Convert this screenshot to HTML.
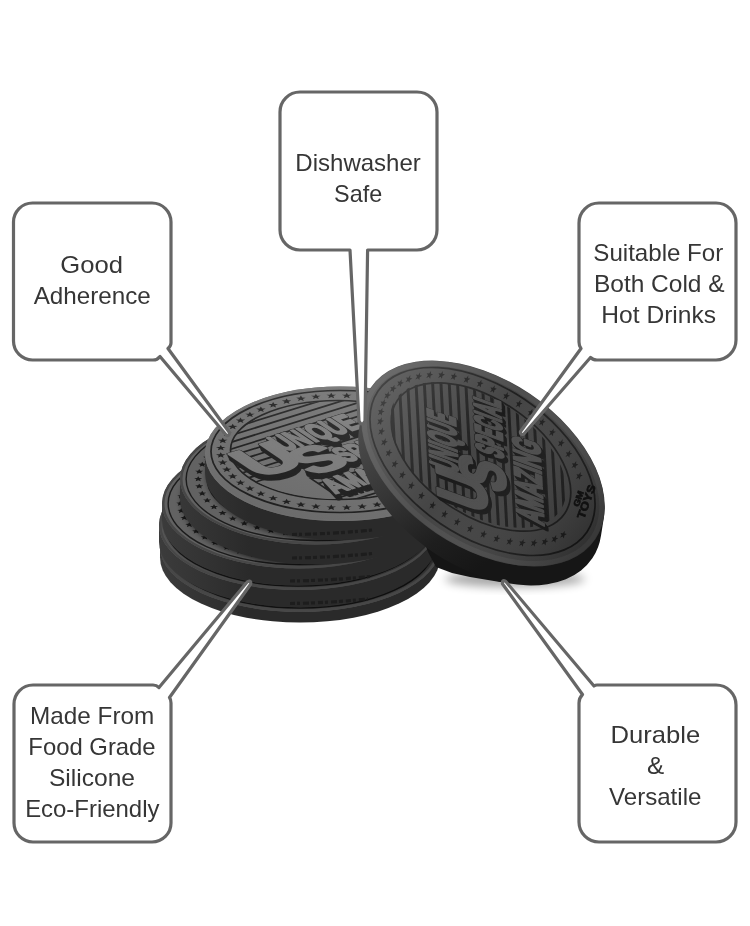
<!DOCTYPE html>
<html>
<head>
<meta charset="utf-8">
<style>
html,body{margin:0;padding:0;background:#fff;}
body{width:750px;height:926px;overflow:hidden;position:relative;font-family:"Liberation Sans",sans-serif;}
svg{position:absolute;left:0;top:0;filter:grayscale(1);}
svg text{font-family:"Liberation Sans",sans-serif;}
.t{font-size:24px;fill:#363636;text-anchor:middle;}
</style>
</head>
<body>
<svg width="750" height="926" viewBox="0 0 750 926">
<defs>
  <radialGradient id="shadow" cx="0.5" cy="0.5" r="0.5">
    <stop offset="0" stop-color="#000" stop-opacity="0.5"/>
    <stop offset="1" stop-color="#000" stop-opacity="0"/>
  </radialGradient>
  <filter id="blur" x="-20%" y="-50%" width="140%" height="200%"><feGaussianBlur stdDeviation="5"/></filter>
</defs>
<g filter="url(#blur)" opacity="0.35">
  <ellipse cx="515" cy="579" rx="70" ry="8" fill="#000"/>
</g>
<defs><filter id="sb" x="-30%" y="-60%" width="160%" height="220%"><feGaussianBlur stdDeviation="3.2"/></filter><linearGradient id="sideg" gradientUnits="userSpaceOnUse" x1="158" y1="0" x2="250" y2="0"><stop offset="0" stop-color="#3c3c3c"/><stop offset="1" stop-color="#2a2a2a"/></linearGradient></defs>
<ellipse cx="300" cy="557.6" rx="140" ry="65" fill="url(#sideg)"/>
<rect x="160" y="547" width="280" height="10.6" fill="url(#sideg)"/>
<ellipse cx="300" cy="547" rx="140" ry="65" fill="#626262"/>
<ellipse cx="300" cy="547" rx="133.7" ry="61.1" fill="none" stroke="#1c1c1c" stroke-width="1.4"/>
<path d="M421.24,544.33 L422.38,546.03 L425.33,546.18 L423.08,547.37 L423.77,549.16 L421.24,548.2 L418.71,549.16 L419.4,547.37 L417.15,546.18 L420.1,546.03ZM420.2,551.59 L421.34,553.28 L424.29,553.43 L422.04,554.62 L422.73,556.41 L420.2,555.45 L417.68,556.41 L418.36,554.62 L416.11,553.43 L419.07,553.28ZM417.11,558.72 L418.25,560.41 L421.2,560.56 L418.95,561.75 L419.64,563.54 L417.11,562.58 L414.58,563.54 L415.27,561.75 L413.02,560.56 L415.97,560.41ZM412.01,565.6 L413.15,567.3 L416.1,567.44 L413.85,568.64 L414.54,570.42 L412.01,569.47 L409.48,570.42 L410.17,568.64 L407.92,567.44 L410.87,567.3ZM405,572.12 L406.13,573.82 L409.09,573.96 L406.84,575.16 L407.52,576.94 L405,575.99 L402.47,576.94 L403.16,575.16 L400.91,573.96 L403.86,573.82ZM396.19,578.17 L397.32,579.86 L400.28,580.01 L398.03,581.2 L398.71,582.99 L396.19,582.03 L393.66,582.99 L394.35,581.2 L392.1,580.01 L395.05,579.86ZM385.73,583.63 L386.87,585.33 L389.82,585.47 L387.57,586.67 L388.26,588.45 L385.73,587.5 L383.2,588.45 L383.89,586.67 L381.64,585.47 L384.59,585.33ZM373.81,588.42 L374.94,590.12 L377.9,590.27 L375.65,591.46 L376.33,593.25 L373.81,592.29 L371.28,593.25 L371.97,591.46 L369.72,590.27 L372.67,590.12ZM360.62,592.46 L361.76,594.16 L364.71,594.31 L362.46,595.5 L363.15,597.29 L360.62,596.33 L358.09,597.29 L358.78,595.5 L356.53,594.31 L359.48,594.16ZM346.4,595.68 L347.53,597.37 L350.49,597.52 L348.24,598.72 L348.92,600.5 L346.4,599.54 L343.87,600.5 L344.56,598.72 L342.31,597.52 L345.26,597.37ZM331.38,598.02 L332.52,599.71 L335.47,599.86 L333.22,601.05 L333.91,602.84 L331.38,601.88 L328.85,602.84 L329.54,601.05 L327.29,599.86 L330.24,599.71ZM315.82,599.43 L316.96,601.13 L319.91,601.28 L317.67,602.47 L318.35,604.26 L315.82,603.3 L313.3,604.26 L313.98,602.47 L311.74,601.28 L314.69,601.13ZM300,599.91 L301.14,601.6 L304.09,601.75 L301.84,602.95 L302.53,604.73 L300,603.77 L297.47,604.73 L298.16,602.95 L295.91,601.75 L298.86,601.6ZM284.18,599.43 L285.31,601.13 L288.26,601.28 L286.02,602.47 L286.7,604.26 L284.18,603.3 L281.65,604.26 L282.33,602.47 L280.09,601.28 L283.04,601.13ZM268.62,598.02 L269.76,599.71 L272.71,599.86 L270.46,601.05 L271.15,602.84 L268.62,601.88 L266.09,602.84 L266.78,601.05 L264.53,599.86 L267.48,599.71ZM253.6,595.68 L254.74,597.37 L257.69,597.52 L255.44,598.72 L256.13,600.5 L253.6,599.54 L251.08,600.5 L251.76,598.72 L249.51,597.52 L252.47,597.37ZM239.38,592.46 L240.52,594.16 L243.47,594.31 L241.22,595.5 L241.91,597.29 L239.38,596.33 L236.85,597.29 L237.54,595.5 L235.29,594.31 L238.24,594.16ZM226.19,588.42 L227.33,590.12 L230.28,590.27 L228.03,591.46 L228.72,593.25 L226.19,592.29 L223.67,593.25 L224.35,591.46 L222.1,590.27 L225.06,590.12ZM214.27,583.63 L215.41,585.33 L218.36,585.47 L216.11,586.67 L216.8,588.45 L214.27,587.5 L211.74,588.45 L212.43,586.67 L210.18,585.47 L213.13,585.33ZM203.81,578.17 L204.95,579.86 L207.9,580.01 L205.65,581.2 L206.34,582.99 L203.81,582.03 L201.29,582.99 L201.97,581.2 L199.72,580.01 L202.68,579.86ZM195,572.12 L196.14,573.82 L199.09,573.96 L196.84,575.16 L197.53,576.94 L195,575.99 L192.48,576.94 L193.16,575.16 L190.91,573.96 L193.87,573.82ZM187.99,565.6 L189.13,567.3 L192.08,567.44 L189.83,568.64 L190.52,570.42 L187.99,569.47 L185.46,570.42 L186.15,568.64 L183.9,567.44 L186.85,567.3ZM182.89,558.72 L184.03,560.41 L186.98,560.56 L184.73,561.75 L185.42,563.54 L182.89,562.58 L180.36,563.54 L181.05,561.75 L178.8,560.56 L181.75,560.41ZM179.8,551.59 L180.93,553.28 L183.89,553.43 L181.64,554.62 L182.32,556.41 L179.8,555.45 L177.27,556.41 L177.96,554.62 L175.71,553.43 L178.66,553.28ZM178.76,544.33 L179.9,546.03 L182.85,546.18 L180.6,547.37 L181.29,549.16 L178.76,548.2 L176.23,549.16 L176.92,547.37 L174.67,546.18 L177.62,546.03ZM179.8,537.08 L180.93,538.78 L183.89,538.92 L181.64,540.12 L182.32,541.9 L179.8,540.95 L177.27,541.9 L177.96,540.12 L175.71,538.92 L178.66,538.78ZM182.89,529.95 L184.03,531.65 L186.98,531.79 L184.73,532.99 L185.42,534.77 L182.89,533.82 L180.36,534.77 L181.05,532.99 L178.8,531.79 L181.75,531.65ZM187.99,523.07 L189.13,524.76 L192.08,524.91 L189.83,526.1 L190.52,527.89 L187.99,526.93 L185.46,527.89 L186.15,526.1 L183.9,524.91 L186.85,524.76ZM195,516.55 L196.14,518.24 L199.09,518.39 L196.84,519.58 L197.53,521.37 L195,520.41 L192.48,521.37 L193.16,519.58 L190.91,518.39 L193.87,518.24ZM203.81,510.5 L204.95,512.2 L207.9,512.34 L205.65,513.54 L206.34,515.32 L203.81,514.37 L201.29,515.32 L201.97,513.54 L199.72,512.34 L202.68,512.2ZM214.27,505.04 L215.41,506.73 L218.36,506.88 L216.11,508.07 L216.8,509.86 L214.27,508.9 L211.74,509.86 L212.43,508.07 L210.18,506.88 L213.13,506.73ZM226.19,500.24 L227.33,501.94 L230.28,502.09 L228.03,503.28 L228.72,505.07 L226.19,504.11 L223.67,505.07 L224.35,503.28 L222.1,502.09 L225.06,501.94ZM239.38,496.2 L240.52,497.9 L243.47,498.05 L241.22,499.24 L241.91,501.03 L239.38,500.07 L236.85,501.03 L237.54,499.24 L235.29,498.05 L238.24,497.9ZM253.6,492.99 L254.74,494.68 L257.69,494.83 L255.44,496.03 L256.13,497.81 L253.6,496.86 L251.08,497.81 L251.76,496.03 L249.51,494.83 L252.47,494.68ZM268.62,490.65 L269.76,492.35 L272.71,492.49 L270.46,493.69 L271.15,495.48 L268.62,494.52 L266.09,495.48 L266.78,493.69 L264.53,492.49 L267.48,492.35ZM284.18,489.23 L285.31,490.93 L288.26,491.08 L286.02,492.27 L286.7,494.06 L284.18,493.1 L281.65,494.06 L282.33,492.27 L280.09,491.08 L283.04,490.93ZM300,488.76 L301.14,490.45 L304.09,490.6 L301.84,491.8 L302.53,493.58 L300,492.62 L297.47,493.58 L298.16,491.8 L295.91,490.6 L298.86,490.45ZM315.82,489.23 L316.96,490.93 L319.91,491.08 L317.67,492.27 L318.35,494.06 L315.82,493.1 L313.3,494.06 L313.98,492.27 L311.74,491.08 L314.69,490.93ZM331.38,490.65 L332.52,492.35 L335.47,492.49 L333.22,493.69 L333.91,495.48 L331.38,494.52 L328.85,495.48 L329.54,493.69 L327.29,492.49 L330.24,492.35ZM346.4,492.99 L347.53,494.68 L350.49,494.83 L348.24,496.03 L348.92,497.81 L346.4,496.86 L343.87,497.81 L344.56,496.03 L342.31,494.83 L345.26,494.68ZM360.62,496.2 L361.76,497.9 L364.71,498.05 L362.46,499.24 L363.15,501.03 L360.62,500.07 L358.09,501.03 L358.78,499.24 L356.53,498.05 L359.48,497.9ZM373.81,500.24 L374.94,501.94 L377.9,502.09 L375.65,503.28 L376.33,505.07 L373.81,504.11 L371.28,505.07 L371.97,503.28 L369.72,502.09 L372.67,501.94ZM385.73,505.04 L386.87,506.73 L389.82,506.88 L387.57,508.07 L388.26,509.86 L385.73,508.9 L383.2,509.86 L383.89,508.07 L381.64,506.88 L384.59,506.73ZM396.19,510.5 L397.32,512.2 L400.28,512.34 L398.03,513.54 L398.71,515.32 L396.19,514.37 L393.66,515.32 L394.35,513.54 L392.1,512.34 L395.05,512.2ZM405,516.55 L406.13,518.24 L409.09,518.39 L406.84,519.58 L407.52,521.37 L405,520.41 L402.47,521.37 L403.16,519.58 L400.91,518.39 L403.86,518.24ZM412.01,523.07 L413.15,524.76 L416.1,524.91 L413.85,526.1 L414.54,527.89 L412.01,526.93 L409.48,527.89 L410.17,526.1 L407.92,524.91 L410.87,524.76ZM417.11,529.95 L418.25,531.65 L421.2,531.79 L418.95,532.99 L419.64,534.77 L417.11,533.82 L414.58,534.77 L415.27,532.99 L413.02,531.79 L415.97,531.65ZM420.2,537.08 L421.34,538.78 L424.29,538.92 L422.04,540.12 L422.73,541.9 L420.2,540.95 L417.68,541.9 L418.36,540.12 L416.11,538.92 L419.07,538.78Z" fill="#1a1a1a"/>
<ellipse cx="300" cy="547" rx="112" ry="50.7" fill="none" stroke="#1c1c1c" stroke-width="1.4"/>
<clipPath id="fc0"><ellipse cx="300" cy="547" rx="140" ry="65" /></clipPath>
<g clip-path="url(#fc0)"><g filter="url(#sb)"><ellipse cx="301" cy="543" rx="140" ry="66" fill="#000" fill-opacity="0.7"/></g></g>
<g clip-path="url(#fc0)"><ellipse cx="300" cy="547" rx="138.8" ry="63.8" fill="none" stroke="#474747" stroke-width="2.6"/></g>
<ellipse cx="298" cy="542" rx="139" ry="65" fill="url(#sideg)"/>
<rect x="159" y="525" width="278" height="17" fill="url(#sideg)"/>
<ellipse cx="298" cy="525" rx="139" ry="65" fill="#626262"/>
<ellipse cx="298" cy="525" rx="132.75" ry="61.1" fill="none" stroke="#1c1c1c" stroke-width="1.4"/>
<path d="M418.37,522.33 L419.51,524.03 L422.46,524.18 L420.21,525.37 L420.9,527.16 L418.37,526.2 L415.85,527.16 L416.53,525.37 L414.28,524.18 L417.24,524.03ZM417.34,529.59 L418.48,531.28 L421.43,531.43 L419.18,532.62 L419.87,534.41 L417.34,533.45 L414.82,534.41 L415.5,532.62 L413.25,531.43 L416.21,531.28ZM414.27,536.72 L415.41,538.41 L418.36,538.56 L416.11,539.75 L416.8,541.54 L414.27,540.58 L411.74,541.54 L412.43,539.75 L410.18,538.56 L413.13,538.41ZM409.21,543.6 L410.35,545.3 L413.3,545.44 L411.05,546.64 L411.74,548.42 L409.21,547.47 L406.68,548.42 L407.37,546.64 L405.12,545.44 L408.07,545.3ZM402.25,550.12 L403.38,551.82 L406.34,551.96 L404.09,553.16 L404.77,554.94 L402.25,553.99 L399.72,554.94 L400.41,553.16 L398.16,551.96 L401.11,551.82ZM393.5,556.17 L394.64,557.86 L397.59,558.01 L395.34,559.2 L396.03,560.99 L393.5,560.03 L390.97,560.99 L391.66,559.2 L389.41,558.01 L392.36,557.86ZM383.12,561.63 L384.25,563.33 L387.21,563.47 L384.96,564.67 L385.64,566.45 L383.12,565.5 L380.59,566.45 L381.28,564.67 L379.03,563.47 L381.98,563.33ZM371.28,566.42 L372.42,568.12 L375.37,568.27 L373.12,569.46 L373.81,571.25 L371.28,570.29 L368.75,571.25 L369.44,569.46 L367.19,568.27 L370.14,568.12ZM358.19,570.46 L359.32,572.16 L362.28,572.31 L360.03,573.5 L360.71,575.29 L358.19,574.33 L355.66,575.29 L356.35,573.5 L354.1,572.31 L357.05,572.16ZM344.07,573.68 L345.2,575.37 L348.15,575.52 L345.91,576.72 L346.59,578.5 L344.07,577.54 L341.54,578.5 L342.22,576.72 L339.98,575.52 L342.93,575.37ZM329.16,576.02 L330.29,577.71 L333.24,577.86 L331,579.05 L331.68,580.84 L329.16,579.88 L326.63,580.84 L327.31,579.05 L325.07,577.86 L328.02,577.71ZM313.71,577.43 L314.85,579.13 L317.8,579.28 L315.55,580.47 L316.24,582.26 L313.71,581.3 L311.18,582.26 L311.87,580.47 L309.62,579.28 L312.57,579.13ZM298,577.91 L299.14,579.6 L302.09,579.75 L299.84,580.95 L300.53,582.73 L298,581.77 L295.47,582.73 L296.16,580.95 L293.91,579.75 L296.86,579.6ZM282.29,577.43 L283.43,579.13 L286.38,579.28 L284.13,580.47 L284.82,582.26 L282.29,581.3 L279.76,582.26 L280.45,580.47 L278.2,579.28 L281.15,579.13ZM266.84,576.02 L267.98,577.71 L270.93,577.86 L268.69,579.05 L269.37,580.84 L266.84,579.88 L264.32,580.84 L265,579.05 L262.76,577.86 L265.71,577.71ZM251.93,573.68 L253.07,575.37 L256.02,575.52 L253.78,576.72 L254.46,578.5 L251.93,577.54 L249.41,578.5 L250.09,576.72 L247.85,575.52 L250.8,575.37ZM237.81,570.46 L238.95,572.16 L241.9,572.31 L239.65,573.5 L240.34,575.29 L237.81,574.33 L235.29,575.29 L235.97,573.5 L233.72,572.31 L236.68,572.16ZM224.72,566.42 L225.86,568.12 L228.81,568.27 L226.56,569.46 L227.25,571.25 L224.72,570.29 L222.19,571.25 L222.88,569.46 L220.63,568.27 L223.58,568.12ZM212.88,561.63 L214.02,563.33 L216.97,563.47 L214.72,564.67 L215.41,566.45 L212.88,565.5 L210.36,566.45 L211.04,564.67 L208.79,563.47 L211.75,563.33ZM202.5,556.17 L203.64,557.86 L206.59,558.01 L204.34,559.2 L205.03,560.99 L202.5,560.03 L199.97,560.99 L200.66,559.2 L198.41,558.01 L201.36,557.86ZM193.75,550.12 L194.89,551.82 L197.84,551.96 L195.59,553.16 L196.28,554.94 L193.75,553.99 L191.23,554.94 L191.91,553.16 L189.66,551.96 L192.62,551.82ZM186.79,543.6 L187.93,545.3 L190.88,545.44 L188.63,546.64 L189.32,548.42 L186.79,547.47 L184.26,548.42 L184.95,546.64 L182.7,545.44 L185.65,545.3ZM181.73,536.72 L182.87,538.41 L185.82,538.56 L183.57,539.75 L184.26,541.54 L181.73,540.58 L179.2,541.54 L179.89,539.75 L177.64,538.56 L180.59,538.41ZM178.66,529.59 L179.79,531.28 L182.75,531.43 L180.5,532.62 L181.18,534.41 L178.66,533.45 L176.13,534.41 L176.82,532.62 L174.57,531.43 L177.52,531.28ZM177.63,522.33 L178.76,524.03 L181.72,524.18 L179.47,525.37 L180.15,527.16 L177.63,526.2 L175.1,527.16 L175.79,525.37 L173.54,524.18 L176.49,524.03ZM178.66,515.08 L179.79,516.78 L182.75,516.92 L180.5,518.12 L181.18,519.9 L178.66,518.95 L176.13,519.9 L176.82,518.12 L174.57,516.92 L177.52,516.78ZM181.73,507.95 L182.87,509.65 L185.82,509.79 L183.57,510.99 L184.26,512.77 L181.73,511.82 L179.2,512.77 L179.89,510.99 L177.64,509.79 L180.59,509.65ZM186.79,501.07 L187.93,502.76 L190.88,502.91 L188.63,504.1 L189.32,505.89 L186.79,504.93 L184.26,505.89 L184.95,504.1 L182.7,502.91 L185.65,502.76ZM193.75,494.55 L194.89,496.24 L197.84,496.39 L195.59,497.58 L196.28,499.37 L193.75,498.41 L191.23,499.37 L191.91,497.58 L189.66,496.39 L192.62,496.24ZM202.5,488.5 L203.64,490.2 L206.59,490.34 L204.34,491.54 L205.03,493.32 L202.5,492.37 L199.97,493.32 L200.66,491.54 L198.41,490.34 L201.36,490.2ZM212.88,483.04 L214.02,484.73 L216.97,484.88 L214.72,486.07 L215.41,487.86 L212.88,486.9 L210.36,487.86 L211.04,486.07 L208.79,484.88 L211.75,484.73ZM224.72,478.24 L225.86,479.94 L228.81,480.09 L226.56,481.28 L227.25,483.07 L224.72,482.11 L222.19,483.07 L222.88,481.28 L220.63,480.09 L223.58,479.94ZM237.81,474.2 L238.95,475.9 L241.9,476.05 L239.65,477.24 L240.34,479.03 L237.81,478.07 L235.29,479.03 L235.97,477.24 L233.72,476.05 L236.68,475.9ZM251.93,470.99 L253.07,472.68 L256.02,472.83 L253.78,474.03 L254.46,475.81 L251.93,474.86 L249.41,475.81 L250.09,474.03 L247.85,472.83 L250.8,472.68ZM266.84,468.65 L267.98,470.35 L270.93,470.49 L268.69,471.69 L269.37,473.48 L266.84,472.52 L264.32,473.48 L265,471.69 L262.76,470.49 L265.71,470.35ZM282.29,467.23 L283.43,468.93 L286.38,469.08 L284.13,470.27 L284.82,472.06 L282.29,471.1 L279.76,472.06 L280.45,470.27 L278.2,469.08 L281.15,468.93ZM298,466.76 L299.14,468.45 L302.09,468.6 L299.84,469.8 L300.53,471.58 L298,470.62 L295.47,471.58 L296.16,469.8 L293.91,468.6 L296.86,468.45ZM313.71,467.23 L314.85,468.93 L317.8,469.08 L315.55,470.27 L316.24,472.06 L313.71,471.1 L311.18,472.06 L311.87,470.27 L309.62,469.08 L312.57,468.93ZM329.16,468.65 L330.29,470.35 L333.24,470.49 L331,471.69 L331.68,473.48 L329.16,472.52 L326.63,473.48 L327.31,471.69 L325.07,470.49 L328.02,470.35ZM344.07,470.99 L345.2,472.68 L348.15,472.83 L345.91,474.03 L346.59,475.81 L344.07,474.86 L341.54,475.81 L342.22,474.03 L339.98,472.83 L342.93,472.68ZM358.19,474.2 L359.32,475.9 L362.28,476.05 L360.03,477.24 L360.71,479.03 L358.19,478.07 L355.66,479.03 L356.35,477.24 L354.1,476.05 L357.05,475.9ZM371.28,478.24 L372.42,479.94 L375.37,480.09 L373.12,481.28 L373.81,483.07 L371.28,482.11 L368.75,483.07 L369.44,481.28 L367.19,480.09 L370.14,479.94ZM383.12,483.04 L384.25,484.73 L387.21,484.88 L384.96,486.07 L385.64,487.86 L383.12,486.9 L380.59,487.86 L381.28,486.07 L379.03,484.88 L381.98,484.73ZM393.5,488.5 L394.64,490.2 L397.59,490.34 L395.34,491.54 L396.03,493.32 L393.5,492.37 L390.97,493.32 L391.66,491.54 L389.41,490.34 L392.36,490.2ZM402.25,494.55 L403.38,496.24 L406.34,496.39 L404.09,497.58 L404.77,499.37 L402.25,498.41 L399.72,499.37 L400.41,497.58 L398.16,496.39 L401.11,496.24ZM409.21,501.07 L410.35,502.76 L413.3,502.91 L411.05,504.1 L411.74,505.89 L409.21,504.93 L406.68,505.89 L407.37,504.1 L405.12,502.91 L408.07,502.76ZM414.27,507.95 L415.41,509.65 L418.36,509.79 L416.11,510.99 L416.8,512.77 L414.27,511.82 L411.74,512.77 L412.43,510.99 L410.18,509.79 L413.13,509.65ZM417.34,515.08 L418.48,516.78 L421.43,516.92 L419.18,518.12 L419.87,519.9 L417.34,518.95 L414.82,519.9 L415.5,518.12 L413.25,516.92 L416.21,516.78Z" fill="#1a1a1a"/>
<ellipse cx="298" cy="525" rx="111.2" ry="50.7" fill="none" stroke="#1c1c1c" stroke-width="1.4"/>
<clipPath id="fc1"><ellipse cx="298" cy="525" rx="139" ry="65" /></clipPath>
<g clip-path="url(#fc1)"><g filter="url(#sb)"><ellipse cx="302" cy="521.5" rx="138" ry="66" fill="#000" fill-opacity="0.7"/></g></g>
<g clip-path="url(#fc1)"><ellipse cx="298" cy="525" rx="137.8" ry="63.8" fill="none" stroke="#474747" stroke-width="2.6"/></g>
<ellipse cx="299" cy="520.5" rx="137" ry="65" fill="url(#sideg)"/>
<rect x="162" y="503.5" width="274" height="17" fill="url(#sideg)"/>
<ellipse cx="299" cy="503.5" rx="137" ry="65" fill="#626262"/>
<ellipse cx="299" cy="503.5" rx="130.84" ry="61.1" fill="none" stroke="#1c1c1c" stroke-width="1.4"/>
<path d="M417.64,500.83 L418.78,502.53 L421.73,502.68 L419.48,503.87 L420.17,505.66 L417.64,504.7 L415.11,505.66 L415.8,503.87 L413.55,502.68 L416.5,502.53ZM416.63,508.09 L417.76,509.78 L420.72,509.93 L418.47,511.12 L419.15,512.91 L416.63,511.95 L414.1,512.91 L414.79,511.12 L412.54,509.93 L415.49,509.78ZM413.6,515.22 L414.74,516.91 L417.69,517.06 L415.44,518.25 L416.13,520.04 L413.6,519.08 L411.07,520.04 L411.76,518.25 L409.51,517.06 L412.46,516.91ZM408.61,522.1 L409.75,523.8 L412.7,523.94 L410.45,525.14 L411.14,526.92 L408.61,525.97 L406.08,526.92 L406.77,525.14 L404.52,523.94 L407.47,523.8ZM401.75,528.62 L402.88,530.32 L405.84,530.46 L403.59,531.66 L404.27,533.44 L401.75,532.49 L399.22,533.44 L399.91,531.66 L397.66,530.46 L400.61,530.32ZM393.13,534.67 L394.26,536.36 L397.21,536.51 L394.97,537.7 L395.65,539.49 L393.13,538.53 L390.6,539.49 L391.28,537.7 L389.04,536.51 L391.99,536.36ZM382.89,540.13 L384.03,541.83 L386.98,541.97 L384.73,543.17 L385.42,544.95 L382.89,544 L380.37,544.95 L381.05,543.17 L378.8,541.97 L381.76,541.83ZM371.22,544.92 L372.36,546.62 L375.31,546.77 L373.06,547.96 L373.75,549.75 L371.22,548.79 L368.7,549.75 L369.38,547.96 L367.14,546.77 L370.09,546.62ZM358.32,548.96 L359.46,550.66 L362.41,550.81 L360.16,552 L360.85,553.79 L358.32,552.83 L355.79,553.79 L356.48,552 L354.23,550.81 L357.18,550.66ZM344.4,552.18 L345.54,553.87 L348.49,554.02 L346.24,555.22 L346.93,557 L344.4,556.04 L341.87,557 L342.56,555.22 L340.31,554.02 L343.26,553.87ZM329.71,554.52 L330.84,556.21 L333.8,556.36 L331.55,557.55 L332.23,559.34 L329.71,558.38 L327.18,559.34 L327.87,557.55 L325.62,556.36 L328.57,556.21ZM314.49,555.93 L315.62,557.63 L318.58,557.78 L316.33,558.97 L317.01,560.76 L314.49,559.8 L311.96,560.76 L312.65,558.97 L310.4,557.78 L313.35,557.63ZM299,556.41 L300.14,558.1 L303.09,558.25 L300.84,559.45 L301.53,561.23 L299,560.27 L296.47,561.23 L297.16,559.45 L294.91,558.25 L297.86,558.1ZM283.51,555.93 L284.65,557.63 L287.6,557.78 L285.35,558.97 L286.04,560.76 L283.51,559.8 L280.99,560.76 L281.67,558.97 L279.42,557.78 L282.38,557.63ZM268.29,554.52 L269.43,556.21 L272.38,556.36 L270.13,557.55 L270.82,559.34 L268.29,558.38 L265.77,559.34 L266.45,557.55 L264.2,556.36 L267.16,556.21ZM253.6,552.18 L254.74,553.87 L257.69,554.02 L255.44,555.22 L256.13,557 L253.6,556.04 L251.07,557 L251.76,555.22 L249.51,554.02 L252.46,553.87ZM239.68,548.96 L240.82,550.66 L243.77,550.81 L241.52,552 L242.21,553.79 L239.68,552.83 L237.15,553.79 L237.84,552 L235.59,550.81 L238.54,550.66ZM226.78,544.92 L227.91,546.62 L230.86,546.77 L228.62,547.96 L229.3,549.75 L226.78,548.79 L224.25,549.75 L224.94,547.96 L222.69,546.77 L225.64,546.62ZM215.11,540.13 L216.24,541.83 L219.2,541.97 L216.95,543.17 L217.63,544.95 L215.11,544 L212.58,544.95 L213.27,543.17 L211.02,541.97 L213.97,541.83ZM204.87,534.67 L206.01,536.36 L208.96,536.51 L206.72,537.7 L207.4,539.49 L204.87,538.53 L202.35,539.49 L203.03,537.7 L200.79,536.51 L203.74,536.36ZM196.25,528.62 L197.39,530.32 L200.34,530.46 L198.09,531.66 L198.78,533.44 L196.25,532.49 L193.73,533.44 L194.41,531.66 L192.16,530.46 L195.12,530.32ZM189.39,522.1 L190.53,523.8 L193.48,523.94 L191.23,525.14 L191.92,526.92 L189.39,525.97 L186.86,526.92 L187.55,525.14 L185.3,523.94 L188.25,523.8ZM184.4,515.22 L185.54,516.91 L188.49,517.06 L186.24,518.25 L186.93,520.04 L184.4,519.08 L181.87,520.04 L182.56,518.25 L180.31,517.06 L183.26,516.91ZM181.37,508.09 L182.51,509.78 L185.46,509.93 L183.21,511.12 L183.9,512.91 L181.37,511.95 L178.85,512.91 L179.53,511.12 L177.28,509.93 L180.24,509.78ZM180.36,500.83 L181.5,502.53 L184.45,502.68 L182.2,503.87 L182.89,505.66 L180.36,504.7 L177.83,505.66 L178.52,503.87 L176.27,502.68 L179.22,502.53ZM181.37,493.58 L182.51,495.28 L185.46,495.42 L183.21,496.62 L183.9,498.4 L181.37,497.45 L178.85,498.4 L179.53,496.62 L177.28,495.42 L180.24,495.28ZM184.4,486.45 L185.54,488.15 L188.49,488.29 L186.24,489.49 L186.93,491.27 L184.4,490.32 L181.87,491.27 L182.56,489.49 L180.31,488.29 L183.26,488.15ZM189.39,479.57 L190.53,481.26 L193.48,481.41 L191.23,482.6 L191.92,484.39 L189.39,483.43 L186.86,484.39 L187.55,482.6 L185.3,481.41 L188.25,481.26ZM196.25,473.05 L197.39,474.74 L200.34,474.89 L198.09,476.08 L198.78,477.87 L196.25,476.91 L193.73,477.87 L194.41,476.08 L192.16,474.89 L195.12,474.74ZM204.87,467 L206.01,468.7 L208.96,468.84 L206.72,470.04 L207.4,471.82 L204.87,470.87 L202.35,471.82 L203.03,470.04 L200.79,468.84 L203.74,468.7ZM215.11,461.54 L216.24,463.23 L219.2,463.38 L216.95,464.57 L217.63,466.36 L215.11,465.4 L212.58,466.36 L213.27,464.57 L211.02,463.38 L213.97,463.23ZM226.78,456.74 L227.91,458.44 L230.86,458.59 L228.62,459.78 L229.3,461.57 L226.78,460.61 L224.25,461.57 L224.94,459.78 L222.69,458.59 L225.64,458.44ZM239.68,452.7 L240.82,454.4 L243.77,454.55 L241.52,455.74 L242.21,457.53 L239.68,456.57 L237.15,457.53 L237.84,455.74 L235.59,454.55 L238.54,454.4ZM253.6,449.49 L254.74,451.18 L257.69,451.33 L255.44,452.53 L256.13,454.31 L253.6,453.36 L251.07,454.31 L251.76,452.53 L249.51,451.33 L252.46,451.18ZM268.29,447.15 L269.43,448.85 L272.38,448.99 L270.13,450.19 L270.82,451.98 L268.29,451.02 L265.77,451.98 L266.45,450.19 L264.2,448.99 L267.16,448.85ZM283.51,445.73 L284.65,447.43 L287.6,447.58 L285.35,448.77 L286.04,450.56 L283.51,449.6 L280.99,450.56 L281.67,448.77 L279.42,447.58 L282.38,447.43ZM299,445.26 L300.14,446.95 L303.09,447.1 L300.84,448.3 L301.53,450.08 L299,449.12 L296.47,450.08 L297.16,448.3 L294.91,447.1 L297.86,446.95ZM314.49,445.73 L315.62,447.43 L318.58,447.58 L316.33,448.77 L317.01,450.56 L314.49,449.6 L311.96,450.56 L312.65,448.77 L310.4,447.58 L313.35,447.43ZM329.71,447.15 L330.84,448.85 L333.8,448.99 L331.55,450.19 L332.23,451.98 L329.71,451.02 L327.18,451.98 L327.87,450.19 L325.62,448.99 L328.57,448.85ZM344.4,449.49 L345.54,451.18 L348.49,451.33 L346.24,452.53 L346.93,454.31 L344.4,453.36 L341.87,454.31 L342.56,452.53 L340.31,451.33 L343.26,451.18ZM358.32,452.7 L359.46,454.4 L362.41,454.55 L360.16,455.74 L360.85,457.53 L358.32,456.57 L355.79,457.53 L356.48,455.74 L354.23,454.55 L357.18,454.4ZM371.22,456.74 L372.36,458.44 L375.31,458.59 L373.06,459.78 L373.75,461.57 L371.22,460.61 L368.7,461.57 L369.38,459.78 L367.14,458.59 L370.09,458.44ZM382.89,461.54 L384.03,463.23 L386.98,463.38 L384.73,464.57 L385.42,466.36 L382.89,465.4 L380.37,466.36 L381.05,464.57 L378.8,463.38 L381.76,463.23ZM393.13,467 L394.26,468.7 L397.21,468.84 L394.97,470.04 L395.65,471.82 L393.13,470.87 L390.6,471.82 L391.28,470.04 L389.04,468.84 L391.99,468.7ZM401.75,473.05 L402.88,474.74 L405.84,474.89 L403.59,476.08 L404.27,477.87 L401.75,476.91 L399.22,477.87 L399.91,476.08 L397.66,474.89 L400.61,474.74ZM408.61,479.57 L409.75,481.26 L412.7,481.41 L410.45,482.6 L411.14,484.39 L408.61,483.43 L406.08,484.39 L406.77,482.6 L404.52,481.41 L407.47,481.26ZM413.6,486.45 L414.74,488.15 L417.69,488.29 L415.44,489.49 L416.13,491.27 L413.6,490.32 L411.07,491.27 L411.76,489.49 L409.51,488.29 L412.46,488.15ZM416.63,493.58 L417.76,495.28 L420.72,495.42 L418.47,496.62 L419.15,498.4 L416.63,497.45 L414.1,498.4 L414.79,496.62 L412.54,495.42 L415.49,495.28Z" fill="#1a1a1a"/>
<ellipse cx="299" cy="503.5" rx="109.6" ry="50.7" fill="none" stroke="#1c1c1c" stroke-width="1.4"/>
<clipPath id="fc2"><ellipse cx="299" cy="503.5" rx="137" ry="65" /></clipPath>
<g clip-path="url(#fc2)"><g filter="url(#sb)"><ellipse cx="319" cy="500" rx="137" ry="66.5" fill="#000" fill-opacity="0.7"/></g></g>
<g clip-path="url(#fc2)"><ellipse cx="299" cy="503.5" rx="135.8" ry="63.8" fill="none" stroke="#474747" stroke-width="2.6"/></g>
<ellipse cx="316" cy="499" rx="136" ry="65.5" fill="url(#sideg)"/>
<rect x="180" y="479" width="272" height="20" fill="url(#sideg)"/>
<ellipse cx="316" cy="479" rx="136" ry="65.5" fill="#626262"/>
<ellipse cx="316" cy="479" rx="129.88" ry="61.57" fill="none" stroke="#1c1c1c" stroke-width="1.4"/>
<path d="M433.78,476.33 L434.91,478.03 L437.87,478.18 L435.62,479.37 L436.3,481.16 L433.78,480.2 L431.25,481.16 L431.94,479.37 L429.69,478.18 L432.64,478.03ZM432.77,483.64 L433.91,485.34 L436.86,485.49 L434.61,486.68 L435.3,488.47 L432.77,487.51 L430.24,488.47 L430.93,486.68 L428.68,485.49 L431.63,485.34ZM429.76,490.83 L430.9,492.52 L433.85,492.67 L431.6,493.87 L432.29,495.65 L429.76,494.69 L427.24,495.65 L427.92,493.87 L425.67,492.67 L428.63,492.52ZM424.81,497.77 L425.95,499.46 L428.9,499.61 L426.65,500.8 L427.34,502.59 L424.81,501.63 L422.28,502.59 L422.97,500.8 L420.72,499.61 L423.67,499.46ZM418,504.34 L419.13,506.03 L422.09,506.18 L419.84,507.37 L420.52,509.16 L418,508.2 L415.47,509.16 L416.16,507.37 L413.91,506.18 L416.86,506.03ZM409.44,510.43 L410.58,512.12 L413.53,512.27 L411.28,513.46 L411.97,515.25 L409.44,514.29 L406.91,515.25 L407.6,513.46 L405.35,512.27 L408.3,512.12ZM399.28,515.93 L400.42,517.63 L403.37,517.78 L401.12,518.97 L401.81,520.76 L399.28,519.8 L396.75,520.76 L397.44,518.97 L395.19,517.78 L398.14,517.63ZM387.7,520.76 L388.83,522.46 L391.79,522.61 L389.54,523.8 L390.22,525.59 L387.7,524.63 L385.17,525.59 L385.86,523.8 L383.61,522.61 L386.56,522.46ZM374.89,524.83 L376.03,526.53 L378.98,526.68 L376.73,527.87 L377.42,529.66 L374.89,528.7 L372.36,529.66 L373.05,527.87 L370.8,526.68 L373.75,526.53ZM361.07,528.07 L362.21,529.77 L365.16,529.92 L362.91,531.11 L363.6,532.9 L361.07,531.94 L358.54,532.9 L359.23,531.11 L356.98,529.92 L359.93,529.77ZM346.48,530.43 L347.62,532.12 L350.57,532.27 L348.32,533.46 L349.01,535.25 L346.48,534.29 L343.96,535.25 L344.64,533.46 L342.39,532.27 L345.35,532.12ZM331.37,531.86 L332.51,533.55 L335.46,533.7 L333.21,534.89 L333.9,536.68 L331.37,535.72 L328.85,536.68 L329.53,534.89 L327.28,533.7 L330.24,533.55ZM316,532.34 L317.14,534.03 L320.09,534.18 L317.84,535.37 L318.53,537.16 L316,536.2 L313.47,537.16 L314.16,535.37 L311.91,534.18 L314.86,534.03ZM300.63,531.86 L301.76,533.55 L304.72,533.7 L302.47,534.89 L303.15,536.68 L300.63,535.72 L298.1,536.68 L298.79,534.89 L296.54,533.7 L299.49,533.55ZM285.52,530.43 L286.65,532.12 L289.61,532.27 L287.36,533.46 L288.04,535.25 L285.52,534.29 L282.99,535.25 L283.68,533.46 L281.43,532.27 L284.38,532.12ZM270.93,528.07 L272.07,529.77 L275.02,529.92 L272.77,531.11 L273.46,532.9 L270.93,531.94 L268.4,532.9 L269.09,531.11 L266.84,529.92 L269.79,529.77ZM257.11,524.83 L258.25,526.53 L261.2,526.68 L258.95,527.87 L259.64,529.66 L257.11,528.7 L254.58,529.66 L255.27,527.87 L253.02,526.68 L255.97,526.53ZM244.3,520.76 L245.44,522.46 L248.39,522.61 L246.14,523.8 L246.83,525.59 L244.3,524.63 L241.78,525.59 L242.46,523.8 L240.21,522.61 L243.17,522.46ZM232.72,515.93 L233.86,517.63 L236.81,517.78 L234.56,518.97 L235.25,520.76 L232.72,519.8 L230.19,520.76 L230.88,518.97 L228.63,517.78 L231.58,517.63ZM222.56,510.43 L223.7,512.12 L226.65,512.27 L224.4,513.46 L225.09,515.25 L222.56,514.29 L220.03,515.25 L220.72,513.46 L218.47,512.27 L221.42,512.12ZM214,504.34 L215.14,506.03 L218.09,506.18 L215.84,507.37 L216.53,509.16 L214,508.2 L211.48,509.16 L212.16,507.37 L209.91,506.18 L212.87,506.03ZM207.19,497.77 L208.33,499.46 L211.28,499.61 L209.03,500.8 L209.72,502.59 L207.19,501.63 L204.66,502.59 L205.35,500.8 L203.1,499.61 L206.05,499.46ZM202.24,490.83 L203.37,492.52 L206.33,492.67 L204.08,493.87 L204.76,495.65 L202.24,494.69 L199.71,495.65 L200.4,493.87 L198.15,492.67 L201.1,492.52ZM199.23,483.64 L200.37,485.34 L203.32,485.49 L201.07,486.68 L201.76,488.47 L199.23,487.51 L196.7,488.47 L197.39,486.68 L195.14,485.49 L198.09,485.34ZM198.22,476.33 L199.36,478.03 L202.31,478.18 L200.06,479.37 L200.75,481.16 L198.22,480.2 L195.7,481.16 L196.38,479.37 L194.13,478.18 L197.09,478.03ZM199.23,469.02 L200.37,470.72 L203.32,470.87 L201.07,472.06 L201.76,473.85 L199.23,472.89 L196.7,473.85 L197.39,472.06 L195.14,470.87 L198.09,470.72ZM202.24,461.84 L203.37,463.53 L206.33,463.68 L204.08,464.88 L204.76,466.66 L202.24,465.71 L199.71,466.66 L200.4,464.88 L198.15,463.68 L201.1,463.53ZM207.19,454.9 L208.33,456.6 L211.28,456.74 L209.03,457.94 L209.72,459.73 L207.19,458.77 L204.66,459.73 L205.35,457.94 L203.1,456.74 L206.05,456.6ZM214,448.33 L215.14,450.03 L218.09,450.17 L215.84,451.37 L216.53,453.16 L214,452.2 L211.48,453.16 L212.16,451.37 L209.91,450.17 L212.87,450.03ZM222.56,442.24 L223.7,443.94 L226.65,444.08 L224.4,445.28 L225.09,447.06 L222.56,446.11 L220.03,447.06 L220.72,445.28 L218.47,444.08 L221.42,443.94ZM232.72,436.73 L233.86,438.43 L236.81,438.58 L234.56,439.77 L235.25,441.56 L232.72,440.6 L230.19,441.56 L230.88,439.77 L228.63,438.58 L231.58,438.43ZM244.3,431.9 L245.44,433.6 L248.39,433.75 L246.14,434.94 L246.83,436.73 L244.3,435.77 L241.78,436.73 L242.46,434.94 L240.21,433.75 L243.17,433.6ZM257.11,427.83 L258.25,429.53 L261.2,429.68 L258.95,430.87 L259.64,432.66 L257.11,431.7 L254.58,432.66 L255.27,430.87 L253.02,429.68 L255.97,429.53ZM270.93,424.59 L272.07,426.29 L275.02,426.44 L272.77,427.63 L273.46,429.42 L270.93,428.46 L268.4,429.42 L269.09,427.63 L266.84,426.44 L269.79,426.29ZM285.52,422.24 L286.65,423.94 L289.61,424.08 L287.36,425.28 L288.04,427.06 L285.52,426.11 L282.99,427.06 L283.68,425.28 L281.43,424.08 L284.38,423.94ZM300.63,420.81 L301.76,422.51 L304.72,422.65 L302.47,423.85 L303.15,425.63 L300.63,424.68 L298.1,425.63 L298.79,423.85 L296.54,422.65 L299.49,422.51ZM316,420.33 L317.14,422.03 L320.09,422.17 L317.84,423.37 L318.53,425.15 L316,424.2 L313.47,425.15 L314.16,423.37 L311.91,422.17 L314.86,422.03ZM331.37,420.81 L332.51,422.51 L335.46,422.65 L333.21,423.85 L333.9,425.63 L331.37,424.68 L328.85,425.63 L329.53,423.85 L327.28,422.65 L330.24,422.51ZM346.48,422.24 L347.62,423.94 L350.57,424.08 L348.32,425.28 L349.01,427.06 L346.48,426.11 L343.96,427.06 L344.64,425.28 L342.39,424.08 L345.35,423.94ZM361.07,424.59 L362.21,426.29 L365.16,426.44 L362.91,427.63 L363.6,429.42 L361.07,428.46 L358.54,429.42 L359.23,427.63 L356.98,426.44 L359.93,426.29ZM374.89,427.83 L376.03,429.53 L378.98,429.68 L376.73,430.87 L377.42,432.66 L374.89,431.7 L372.36,432.66 L373.05,430.87 L370.8,429.68 L373.75,429.53ZM387.7,431.9 L388.83,433.6 L391.79,433.75 L389.54,434.94 L390.22,436.73 L387.7,435.77 L385.17,436.73 L385.86,434.94 L383.61,433.75 L386.56,433.6ZM399.28,436.73 L400.42,438.43 L403.37,438.58 L401.12,439.77 L401.81,441.56 L399.28,440.6 L396.75,441.56 L397.44,439.77 L395.19,438.58 L398.14,438.43ZM409.44,442.24 L410.58,443.94 L413.53,444.08 L411.28,445.28 L411.97,447.06 L409.44,446.11 L406.91,447.06 L407.6,445.28 L405.35,444.08 L408.3,443.94ZM418,448.33 L419.13,450.03 L422.09,450.17 L419.84,451.37 L420.52,453.16 L418,452.2 L415.47,453.16 L416.16,451.37 L413.91,450.17 L416.86,450.03ZM424.81,454.9 L425.95,456.6 L428.9,456.74 L426.65,457.94 L427.34,459.73 L424.81,458.77 L422.28,459.73 L422.97,457.94 L420.72,456.74 L423.67,456.6ZM429.76,461.84 L430.9,463.53 L433.85,463.68 L431.6,464.88 L432.29,466.66 L429.76,465.71 L427.24,466.66 L427.92,464.88 L425.67,463.68 L428.63,463.53ZM432.77,469.02 L433.91,470.72 L436.86,470.87 L434.61,472.06 L435.3,473.85 L432.77,472.89 L430.24,473.85 L430.93,472.06 L428.68,470.87 L431.63,470.72Z" fill="#1a1a1a"/>
<ellipse cx="316" cy="479" rx="108.8" ry="51.09" fill="none" stroke="#1c1c1c" stroke-width="1.4"/>
<clipPath id="fc3"><ellipse cx="316" cy="479" rx="136" ry="65.5" /></clipPath>
<g clip-path="url(#fc3)"><g filter="url(#sb)"><ellipse cx="343" cy="473.8" rx="136" ry="68.3" fill="#000" fill-opacity="0.7"/></g></g>
<g clip-path="url(#fc3)"><ellipse cx="316" cy="479" rx="134.8" ry="64.3" fill="none" stroke="#474747" stroke-width="2.6"/></g>
<ellipse cx="340" cy="472.8" rx="135" ry="67.3" fill="url(#sideg)"/>
<rect x="205" y="453.8" width="270" height="19" fill="url(#sideg)"/>
<ellipse cx="340" cy="453.8" rx="135" ry="67.3" fill="#6e6e6e"/>
<ellipse cx="340" cy="453.8" rx="134.2" ry="66.5" fill="none" stroke="#707070" stroke-width="1.5"/>
<ellipse cx="340" cy="451.5" rx="129" ry="61" fill="none" stroke="#1e1e1e" stroke-width="1.7"/>
<path d="M457.25,452.26 L458.48,454.24 L462,454.34 L459.24,455.65 L460.19,457.69 L457.25,456.52 L454.31,457.69 L455.25,455.65 L452.49,454.34 L456.01,454.24ZM455.22,459.53 L456.46,461.51 L459.98,461.6 L457.22,462.91 L458.16,464.95 L455.22,463.79 L452.28,464.95 L453.23,462.91 L450.47,461.6 L453.99,461.51ZM451.21,466.6 L452.45,468.58 L455.97,468.67 L453.21,469.99 L454.15,472.03 L451.21,470.86 L448.27,472.03 L449.21,469.99 L446.46,468.67 L449.98,468.58ZM445.28,473.37 L446.51,475.35 L450.03,475.44 L447.28,476.76 L448.22,478.8 L445.28,477.63 L442.34,478.8 L443.28,476.76 L440.52,475.44 L444.05,475.35ZM437.53,479.71 L438.76,481.69 L442.28,481.78 L439.53,483.1 L440.47,485.14 L437.53,483.97 L434.59,485.14 L435.53,483.1 L432.77,481.78 L436.29,481.69ZM428.09,485.52 L429.33,487.5 L432.85,487.6 L430.09,488.91 L431.03,490.95 L428.09,489.78 L425.15,490.95 L426.1,488.91 L423.34,487.6 L426.86,487.5ZM417.13,490.7 L418.37,492.68 L421.89,492.78 L419.13,494.09 L420.07,496.13 L417.13,494.96 L414.19,496.13 L415.14,494.09 L412.38,492.78 L415.9,492.68ZM404.84,495.16 L406.07,497.14 L409.59,497.24 L406.83,498.55 L407.77,500.59 L404.84,499.42 L401.9,500.59 L402.84,498.55 L400.08,497.24 L403.6,497.14ZM391.41,498.82 L392.65,500.81 L396.17,500.9 L393.41,502.21 L394.35,504.25 L391.41,503.08 L388.47,504.25 L389.41,502.21 L386.66,500.9 L390.18,500.81ZM377.09,501.63 L378.32,503.61 L381.85,503.7 L379.09,505.02 L380.03,507.06 L377.09,505.89 L374.15,507.06 L375.09,505.02 L372.34,503.7 L375.86,503.61ZM362.12,503.52 L363.35,505.5 L366.87,505.6 L364.12,506.91 L365.06,508.95 L362.12,507.78 L359.18,508.95 L360.12,506.91 L357.36,505.6 L360.88,505.5ZM346.75,504.48 L347.98,506.46 L351.51,506.55 L348.75,507.87 L349.69,509.91 L346.75,508.74 L343.81,509.91 L344.75,507.87 L341.99,506.55 L345.52,506.46ZM331.25,504.48 L332.48,506.46 L336.01,506.55 L333.25,507.87 L334.19,509.91 L331.25,508.74 L328.31,509.91 L329.25,507.87 L326.49,506.55 L330.02,506.46ZM315.88,503.52 L317.12,505.5 L320.64,505.6 L317.88,506.91 L318.82,508.95 L315.88,507.78 L312.94,508.95 L313.88,506.91 L311.13,505.6 L314.65,505.5ZM300.91,501.63 L302.14,503.61 L305.66,503.7 L302.91,505.02 L303.85,507.06 L300.91,505.89 L297.97,507.06 L298.91,505.02 L296.15,503.7 L299.68,503.61ZM286.59,498.82 L287.82,500.81 L291.34,500.9 L288.59,502.21 L289.53,504.25 L286.59,503.08 L283.65,504.25 L284.59,502.21 L281.83,500.9 L285.35,500.81ZM273.16,495.16 L274.4,497.14 L277.92,497.24 L275.16,498.55 L276.1,500.59 L273.16,499.42 L270.23,500.59 L271.17,498.55 L268.41,497.24 L271.93,497.14ZM260.87,490.7 L262.1,492.68 L265.62,492.78 L262.86,494.09 L263.81,496.13 L260.87,494.96 L257.93,496.13 L258.87,494.09 L256.11,492.78 L259.63,492.68ZM249.91,485.52 L251.14,487.5 L254.66,487.6 L251.9,488.91 L252.85,490.95 L249.91,489.78 L246.97,490.95 L247.91,488.91 L245.15,487.6 L248.67,487.5ZM240.47,479.71 L241.71,481.69 L245.23,481.78 L242.47,483.1 L243.41,485.14 L240.47,483.97 L237.53,485.14 L238.47,483.1 L235.72,481.78 L239.24,481.69ZM232.72,473.37 L233.95,475.35 L237.48,475.44 L234.72,476.76 L235.66,478.8 L232.72,477.63 L229.78,478.8 L230.72,476.76 L227.97,475.44 L231.49,475.35ZM226.79,466.6 L228.02,468.58 L231.54,468.67 L228.79,469.99 L229.73,472.03 L226.79,470.86 L223.85,472.03 L224.79,469.99 L222.03,468.67 L225.55,468.58ZM222.78,459.53 L224.01,461.51 L227.53,461.6 L224.77,462.91 L225.72,464.95 L222.78,463.79 L219.84,464.95 L220.78,462.91 L218.02,461.6 L221.54,461.51ZM220.75,452.26 L221.99,454.24 L225.51,454.34 L222.75,455.65 L223.69,457.69 L220.75,456.52 L217.81,457.69 L218.76,455.65 L216,454.34 L219.52,454.24ZM220.75,444.94 L221.99,446.92 L225.51,447.01 L222.75,448.33 L223.69,450.36 L220.75,449.2 L217.81,450.36 L218.76,448.33 L216,447.01 L219.52,446.92ZM222.78,437.67 L224.01,439.66 L227.53,439.75 L224.77,441.06 L225.72,443.1 L222.78,441.93 L219.84,443.1 L220.78,441.06 L218.02,439.75 L221.54,439.66ZM226.79,430.6 L228.02,432.58 L231.54,432.67 L228.79,433.99 L229.73,436.03 L226.79,434.86 L223.85,436.03 L224.79,433.99 L222.03,432.67 L225.55,432.58ZM232.72,423.83 L233.95,425.81 L237.48,425.9 L234.72,427.22 L235.66,429.26 L232.72,428.09 L229.78,429.26 L230.72,427.22 L227.97,425.9 L231.49,425.81ZM240.47,417.49 L241.71,419.47 L245.23,419.56 L242.47,420.88 L243.41,422.92 L240.47,421.75 L237.53,422.92 L238.47,420.88 L235.72,419.56 L239.24,419.47ZM249.91,411.68 L251.14,413.66 L254.66,413.75 L251.9,415.07 L252.85,417.1 L249.91,415.94 L246.97,417.1 L247.91,415.07 L245.15,413.75 L248.67,413.66ZM260.87,406.5 L262.1,408.48 L265.62,408.57 L262.86,409.89 L263.81,411.92 L260.87,410.76 L257.93,411.92 L258.87,409.89 L256.11,408.57 L259.63,408.48ZM273.16,402.04 L274.4,404.02 L277.92,404.11 L275.16,405.43 L276.1,407.46 L273.16,406.3 L270.23,407.46 L271.17,405.43 L268.41,404.11 L271.93,404.02ZM286.59,398.38 L287.82,400.36 L291.34,400.45 L288.59,401.76 L289.53,403.8 L286.59,402.64 L283.65,403.8 L284.59,401.76 L281.83,400.45 L285.35,400.36ZM300.91,395.57 L302.14,397.55 L305.66,397.64 L302.91,398.96 L303.85,401 L300.91,399.83 L297.97,401 L298.91,398.96 L296.15,397.64 L299.68,397.55ZM315.88,393.68 L317.12,395.66 L320.64,395.75 L317.88,397.07 L318.82,399.1 L315.88,397.94 L312.94,399.1 L313.88,397.07 L311.13,395.75 L314.65,395.66ZM331.25,392.72 L332.48,394.7 L336.01,394.79 L333.25,396.11 L334.19,398.15 L331.25,396.98 L328.31,398.15 L329.25,396.11 L326.49,394.79 L330.02,394.7ZM346.75,392.72 L347.98,394.7 L351.51,394.79 L348.75,396.11 L349.69,398.15 L346.75,396.98 L343.81,398.15 L344.75,396.11 L341.99,394.79 L345.52,394.7ZM362.12,393.68 L363.35,395.66 L366.87,395.75 L364.12,397.07 L365.06,399.1 L362.12,397.94 L359.18,399.1 L360.12,397.07 L357.36,395.75 L360.88,395.66ZM377.09,395.57 L378.32,397.55 L381.85,397.64 L379.09,398.96 L380.03,401 L377.09,399.83 L374.15,401 L375.09,398.96 L372.34,397.64 L375.86,397.55ZM391.41,398.38 L392.65,400.36 L396.17,400.45 L393.41,401.76 L394.35,403.8 L391.41,402.64 L388.47,403.8 L389.41,401.76 L386.66,400.45 L390.18,400.36ZM404.84,402.04 L406.07,404.02 L409.59,404.11 L406.83,405.43 L407.77,407.46 L404.84,406.3 L401.9,407.46 L402.84,405.43 L400.08,404.11 L403.6,404.02ZM417.13,406.5 L418.37,408.48 L421.89,408.57 L419.13,409.89 L420.07,411.92 L417.13,410.76 L414.19,411.92 L415.14,409.89 L412.38,408.57 L415.9,408.48ZM428.09,411.68 L429.33,413.66 L432.85,413.75 L430.09,415.07 L431.03,417.1 L428.09,415.94 L425.15,417.1 L426.1,415.07 L423.34,413.75 L426.86,413.66ZM437.53,417.49 L438.76,419.47 L442.28,419.56 L439.53,420.88 L440.47,422.92 L437.53,421.75 L434.59,422.92 L435.53,420.88 L432.77,419.56 L436.29,419.47ZM445.28,423.83 L446.51,425.81 L450.03,425.9 L447.28,427.22 L448.22,429.26 L445.28,428.09 L442.34,429.26 L443.28,427.22 L440.52,425.9 L444.05,425.81ZM451.21,430.6 L452.45,432.58 L455.97,432.67 L453.21,433.99 L454.15,436.03 L451.21,434.86 L448.27,436.03 L449.21,433.99 L446.46,432.67 L449.98,432.58ZM455.22,437.67 L456.46,439.66 L459.98,439.75 L457.22,441.06 L458.16,443.1 L455.22,441.93 L452.28,443.1 L453.23,441.06 L450.47,439.75 L453.99,439.66ZM457.25,444.94 L458.48,446.92 L462,447.01 L459.24,448.33 L460.19,450.36 L457.25,449.2 L454.31,450.36 L455.25,448.33 L452.49,447.01 L456.01,446.92Z" fill="#1e1e1e"/>
<ellipse cx="338" cy="450" rx="107.5" ry="49.5" fill="none" stroke="#1e1e1e" stroke-width="1.7"/>
<g transform="translate(338 450) scale(1 0.458) scale(1.436) rotate(-34.2)"><clipPath id="c1clip"><circle r="74.5"/></clipPath><g clip-path="url(#c1clip)"><rect x="-80" y="-259.15" width="160" height="2.3" fill="#1e1e1e"/><rect x="-80" y="-250.55" width="160" height="2.3" fill="#1e1e1e"/><rect x="-80" y="-241.95" width="160" height="2.3" fill="#1e1e1e"/><rect x="-80" y="-233.35" width="160" height="2.3" fill="#1e1e1e"/><rect x="-80" y="-224.75" width="160" height="2.3" fill="#1e1e1e"/><rect x="-80" y="-216.15" width="160" height="2.3" fill="#1e1e1e"/><rect x="-80" y="-207.55" width="160" height="2.3" fill="#1e1e1e"/><rect x="-80" y="-198.95" width="160" height="2.3" fill="#1e1e1e"/><rect x="-80" y="-190.35" width="160" height="2.3" fill="#1e1e1e"/><rect x="-80" y="-181.75" width="160" height="2.3" fill="#1e1e1e"/><rect x="-80" y="-173.15" width="160" height="2.3" fill="#1e1e1e"/><rect x="-80" y="-164.55" width="160" height="2.3" fill="#1e1e1e"/><rect x="-80" y="-155.95" width="160" height="2.3" fill="#1e1e1e"/><rect x="-80" y="-147.35" width="160" height="2.3" fill="#1e1e1e"/><rect x="-80" y="-138.75" width="160" height="2.3" fill="#1e1e1e"/><rect x="-80" y="-130.15" width="160" height="2.3" fill="#1e1e1e"/><rect x="-80" y="-121.55" width="160" height="2.3" fill="#1e1e1e"/><rect x="-80" y="-112.95" width="160" height="2.3" fill="#1e1e1e"/><rect x="-80" y="-104.35" width="160" height="2.3" fill="#1e1e1e"/><rect x="-80" y="-95.75" width="160" height="2.3" fill="#1e1e1e"/><rect x="-80" y="-87.15" width="160" height="2.3" fill="#1e1e1e"/><rect x="-80" y="-78.55" width="160" height="2.3" fill="#1e1e1e"/><rect x="-80" y="-69.95" width="160" height="2.3" fill="#1e1e1e"/><rect x="-80" y="-61.35" width="160" height="2.3" fill="#1e1e1e"/><rect x="-80" y="-52.75" width="160" height="2.3" fill="#1e1e1e"/><rect x="-80" y="-44.15" width="160" height="2.3" fill="#1e1e1e"/><rect x="-80" y="-35.55" width="160" height="2.3" fill="#1e1e1e"/><rect x="-80" y="-26.95" width="160" height="2.3" fill="#1e1e1e"/><rect x="-80" y="-18.35" width="160" height="2.3" fill="#1e1e1e"/><rect x="-80" y="-9.75" width="160" height="2.3" fill="#1e1e1e"/><rect x="-80" y="-1.15" width="160" height="2.3" fill="#1e1e1e"/><rect x="-80" y="7.45" width="160" height="2.3" fill="#1e1e1e"/><rect x="-80" y="16.05" width="160" height="2.3" fill="#1e1e1e"/><rect x="-80" y="24.65" width="160" height="2.3" fill="#1e1e1e"/><rect x="-80" y="33.25" width="160" height="2.3" fill="#1e1e1e"/><rect x="-80" y="41.85" width="160" height="2.3" fill="#1e1e1e"/><rect x="-80" y="50.45" width="160" height="2.3" fill="#1e1e1e"/><rect x="-80" y="59.05" width="160" height="2.3" fill="#1e1e1e"/><rect x="-80" y="67.65" width="160" height="2.3" fill="#1e1e1e"/><rect x="-80" y="76.25" width="160" height="2.3" fill="#1e1e1e"/><rect x="-80" y="84.85" width="160" height="2.3" fill="#1e1e1e"/><rect x="-80" y="93.45" width="160" height="2.3" fill="#1e1e1e"/><rect x="-80" y="102.05" width="160" height="2.3" fill="#1e1e1e"/><rect x="-80" y="110.65" width="160" height="2.3" fill="#1e1e1e"/><rect x="-80" y="119.25" width="160" height="2.3" fill="#1e1e1e"/><rect x="-80" y="127.85" width="160" height="2.3" fill="#1e1e1e"/><rect x="-80" y="136.45" width="160" height="2.3" fill="#1e1e1e"/><rect x="-80" y="145.05" width="160" height="2.3" fill="#1e1e1e"/><rect x="-80" y="153.65" width="160" height="2.3" fill="#1e1e1e"/><rect x="-80" y="162.25" width="160" height="2.3" fill="#1e1e1e"/><rect x="-80" y="170.85" width="160" height="2.3" fill="#1e1e1e"/><rect x="-80" y="179.45" width="160" height="2.3" fill="#1e1e1e"/><rect x="-80" y="188.05" width="160" height="2.3" fill="#1e1e1e"/><rect x="-80" y="196.65" width="160" height="2.3" fill="#1e1e1e"/><rect x="-80" y="205.25" width="160" height="2.3" fill="#1e1e1e"/><rect x="-80" y="213.85" width="160" height="2.3" fill="#1e1e1e"/><rect x="-80" y="222.45" width="160" height="2.3" fill="#1e1e1e"/><rect x="-80" y="231.05" width="160" height="2.3" fill="#1e1e1e"/><rect x="-80" y="239.65" width="160" height="2.3" fill="#1e1e1e"/><rect x="-80" y="248.25" width="160" height="2.3" fill="#1e1e1e"/><rect x="-80" y="256.85" width="160" height="2.3" fill="#1e1e1e"/><path d="M-90,8 H-24 V24 H-40 V90 H-90 Z" fill="#6e6e6e" stroke="#1e1e1e" stroke-width="1.6"/></g></g>
<g transform="translate(0.4 1)"><g transform="translate(338 450) scale(1 0.458) scale(1.436) rotate(-34.2)"><text x="1.5" y="-19" font-size="34.29" font-weight="bold" text-anchor="middle" textLength="67" lengthAdjust="spacingAndGlyphs" fill="#1e1e1e" stroke="#1e1e1e" stroke-width="3.4" stroke-linejoin="round">UNIQUE</text><text x="-48.7" y="5" font-size="61.73" font-weight="bold" text-anchor="middle" textLength="42" lengthAdjust="spacingAndGlyphs" fill="#1e1e1e" stroke="#1e1e1e" stroke-width="3.4" stroke-linejoin="round">U</text><text x="-19.5" y="22.5" font-size="56.24" font-weight="bold" text-anchor="middle" textLength="34" lengthAdjust="spacingAndGlyphs" fill="#1e1e1e" stroke="#1e1e1e" stroke-width="3.4" stroke-linejoin="round">S</text><text x="28.7" y="19.1" font-size="31.55" font-weight="bold" text-anchor="middle" textLength="68" lengthAdjust="spacingAndGlyphs" fill="#1e1e1e" stroke="#1e1e1e" stroke-width="3.4" stroke-linejoin="round">SPECIAL</text><text x="2" y="53.9" font-size="31.55" font-weight="bold" text-anchor="middle" textLength="82" lengthAdjust="spacingAndGlyphs" fill="#1e1e1e" stroke="#1e1e1e" stroke-width="3.4" stroke-linejoin="round">AMAZING</text></g></g>
<g transform="translate(0.8 2)"><g transform="translate(338 450) scale(1 0.458) scale(1.436) rotate(-34.2)"><text x="1.5" y="-19" font-size="34.29" font-weight="bold" text-anchor="middle" textLength="67" lengthAdjust="spacingAndGlyphs" fill="#1e1e1e" stroke="#1e1e1e" stroke-width="3.4" stroke-linejoin="round">UNIQUE</text><text x="-48.7" y="5" font-size="61.73" font-weight="bold" text-anchor="middle" textLength="42" lengthAdjust="spacingAndGlyphs" fill="#1e1e1e" stroke="#1e1e1e" stroke-width="3.4" stroke-linejoin="round">U</text><text x="-19.5" y="22.5" font-size="56.24" font-weight="bold" text-anchor="middle" textLength="34" lengthAdjust="spacingAndGlyphs" fill="#1e1e1e" stroke="#1e1e1e" stroke-width="3.4" stroke-linejoin="round">S</text><text x="28.7" y="19.1" font-size="31.55" font-weight="bold" text-anchor="middle" textLength="68" lengthAdjust="spacingAndGlyphs" fill="#1e1e1e" stroke="#1e1e1e" stroke-width="3.4" stroke-linejoin="round">SPECIAL</text><text x="2" y="53.9" font-size="31.55" font-weight="bold" text-anchor="middle" textLength="82" lengthAdjust="spacingAndGlyphs" fill="#1e1e1e" stroke="#1e1e1e" stroke-width="3.4" stroke-linejoin="round">AMAZING</text></g></g>
<g transform="translate(1.2 3)"><g transform="translate(338 450) scale(1 0.458) scale(1.436) rotate(-34.2)"><text x="1.5" y="-19" font-size="34.29" font-weight="bold" text-anchor="middle" textLength="67" lengthAdjust="spacingAndGlyphs" fill="#1e1e1e" stroke="#1e1e1e" stroke-width="3.4" stroke-linejoin="round">UNIQUE</text><text x="-48.7" y="5" font-size="61.73" font-weight="bold" text-anchor="middle" textLength="42" lengthAdjust="spacingAndGlyphs" fill="#1e1e1e" stroke="#1e1e1e" stroke-width="3.4" stroke-linejoin="round">U</text><text x="-19.5" y="22.5" font-size="56.24" font-weight="bold" text-anchor="middle" textLength="34" lengthAdjust="spacingAndGlyphs" fill="#1e1e1e" stroke="#1e1e1e" stroke-width="3.4" stroke-linejoin="round">S</text><text x="28.7" y="19.1" font-size="31.55" font-weight="bold" text-anchor="middle" textLength="68" lengthAdjust="spacingAndGlyphs" fill="#1e1e1e" stroke="#1e1e1e" stroke-width="3.4" stroke-linejoin="round">SPECIAL</text><text x="2" y="53.9" font-size="31.55" font-weight="bold" text-anchor="middle" textLength="82" lengthAdjust="spacingAndGlyphs" fill="#1e1e1e" stroke="#1e1e1e" stroke-width="3.4" stroke-linejoin="round">AMAZING</text></g></g>
<g transform="translate(1.6 4)"><g transform="translate(338 450) scale(1 0.458) scale(1.436) rotate(-34.2)"><text x="1.5" y="-19" font-size="34.29" font-weight="bold" text-anchor="middle" textLength="67" lengthAdjust="spacingAndGlyphs" fill="#1e1e1e" stroke="#1e1e1e" stroke-width="3.4" stroke-linejoin="round">UNIQUE</text><text x="-48.7" y="5" font-size="61.73" font-weight="bold" text-anchor="middle" textLength="42" lengthAdjust="spacingAndGlyphs" fill="#1e1e1e" stroke="#1e1e1e" stroke-width="3.4" stroke-linejoin="round">U</text><text x="-19.5" y="22.5" font-size="56.24" font-weight="bold" text-anchor="middle" textLength="34" lengthAdjust="spacingAndGlyphs" fill="#1e1e1e" stroke="#1e1e1e" stroke-width="3.4" stroke-linejoin="round">S</text><text x="28.7" y="19.1" font-size="31.55" font-weight="bold" text-anchor="middle" textLength="68" lengthAdjust="spacingAndGlyphs" fill="#1e1e1e" stroke="#1e1e1e" stroke-width="3.4" stroke-linejoin="round">SPECIAL</text><text x="2" y="53.9" font-size="31.55" font-weight="bold" text-anchor="middle" textLength="82" lengthAdjust="spacingAndGlyphs" fill="#1e1e1e" stroke="#1e1e1e" stroke-width="3.4" stroke-linejoin="round">AMAZING</text></g></g>
<g transform="translate(2 5)"><g transform="translate(338 450) scale(1 0.458) scale(1.436) rotate(-34.2)"><text x="1.5" y="-19" font-size="34.29" font-weight="bold" text-anchor="middle" textLength="67" lengthAdjust="spacingAndGlyphs" fill="#1e1e1e" stroke="#1e1e1e" stroke-width="3.4" stroke-linejoin="round">UNIQUE</text><text x="-48.7" y="5" font-size="61.73" font-weight="bold" text-anchor="middle" textLength="42" lengthAdjust="spacingAndGlyphs" fill="#1e1e1e" stroke="#1e1e1e" stroke-width="3.4" stroke-linejoin="round">U</text><text x="-19.5" y="22.5" font-size="56.24" font-weight="bold" text-anchor="middle" textLength="34" lengthAdjust="spacingAndGlyphs" fill="#1e1e1e" stroke="#1e1e1e" stroke-width="3.4" stroke-linejoin="round">S</text><text x="28.7" y="19.1" font-size="31.55" font-weight="bold" text-anchor="middle" textLength="68" lengthAdjust="spacingAndGlyphs" fill="#1e1e1e" stroke="#1e1e1e" stroke-width="3.4" stroke-linejoin="round">SPECIAL</text><text x="2" y="53.9" font-size="31.55" font-weight="bold" text-anchor="middle" textLength="82" lengthAdjust="spacingAndGlyphs" fill="#1e1e1e" stroke="#1e1e1e" stroke-width="3.4" stroke-linejoin="round">AMAZING</text></g></g>
<g transform="translate(2.4 6)"><g transform="translate(338 450) scale(1 0.458) scale(1.436) rotate(-34.2)"><text x="1.5" y="-19" font-size="34.29" font-weight="bold" text-anchor="middle" textLength="67" lengthAdjust="spacingAndGlyphs" fill="#1e1e1e" stroke="#1e1e1e" stroke-width="3.4" stroke-linejoin="round">UNIQUE</text><text x="-48.7" y="5" font-size="61.73" font-weight="bold" text-anchor="middle" textLength="42" lengthAdjust="spacingAndGlyphs" fill="#1e1e1e" stroke="#1e1e1e" stroke-width="3.4" stroke-linejoin="round">U</text><text x="-19.5" y="22.5" font-size="56.24" font-weight="bold" text-anchor="middle" textLength="34" lengthAdjust="spacingAndGlyphs" fill="#1e1e1e" stroke="#1e1e1e" stroke-width="3.4" stroke-linejoin="round">S</text><text x="28.7" y="19.1" font-size="31.55" font-weight="bold" text-anchor="middle" textLength="68" lengthAdjust="spacingAndGlyphs" fill="#1e1e1e" stroke="#1e1e1e" stroke-width="3.4" stroke-linejoin="round">SPECIAL</text><text x="2" y="53.9" font-size="31.55" font-weight="bold" text-anchor="middle" textLength="82" lengthAdjust="spacingAndGlyphs" fill="#1e1e1e" stroke="#1e1e1e" stroke-width="3.4" stroke-linejoin="round">AMAZING</text></g></g>
<g transform="translate(338 450) scale(1 0.458) scale(1.436) rotate(-34.2)"><text x="1.5" y="-19" font-size="34.29" font-weight="bold" text-anchor="middle" textLength="67" lengthAdjust="spacingAndGlyphs" fill="#262626" stroke="#262626" stroke-width="4.0" stroke-linejoin="round">UNIQUE</text><text x="-48.7" y="5" font-size="61.73" font-weight="bold" text-anchor="middle" textLength="42" lengthAdjust="spacingAndGlyphs" fill="#262626" stroke="#262626" stroke-width="4.0" stroke-linejoin="round">U</text><text x="-19.5" y="22.5" font-size="56.24" font-weight="bold" text-anchor="middle" textLength="34" lengthAdjust="spacingAndGlyphs" fill="#262626" stroke="#262626" stroke-width="4.0" stroke-linejoin="round">S</text><text x="28.7" y="19.1" font-size="31.55" font-weight="bold" text-anchor="middle" textLength="68" lengthAdjust="spacingAndGlyphs" fill="#262626" stroke="#262626" stroke-width="4.0" stroke-linejoin="round">SPECIAL</text><text x="2" y="53.9" font-size="31.55" font-weight="bold" text-anchor="middle" textLength="82" lengthAdjust="spacingAndGlyphs" fill="#262626" stroke="#262626" stroke-width="4.0" stroke-linejoin="round">AMAZING</text></g>
<g transform="translate(338 450) scale(1 0.458) scale(1.436) rotate(-34.2)"><text x="1.5" y="-19" font-size="34.29" font-weight="bold" text-anchor="middle" textLength="67" lengthAdjust="spacingAndGlyphs" fill="#797979" stroke="#797979" stroke-width="2.8" stroke-linejoin="round">UNIQUE</text><text x="-48.7" y="5" font-size="61.73" font-weight="bold" text-anchor="middle" textLength="42" lengthAdjust="spacingAndGlyphs" fill="#797979" stroke="#797979" stroke-width="2.8" stroke-linejoin="round">U</text><text x="-19.5" y="22.5" font-size="56.24" font-weight="bold" text-anchor="middle" textLength="34" lengthAdjust="spacingAndGlyphs" fill="#797979" stroke="#797979" stroke-width="2.8" stroke-linejoin="round">S</text><text x="28.7" y="19.1" font-size="31.55" font-weight="bold" text-anchor="middle" textLength="68" lengthAdjust="spacingAndGlyphs" fill="#797979" stroke="#797979" stroke-width="2.8" stroke-linejoin="round">SPECIAL</text><text x="2" y="53.9" font-size="31.55" font-weight="bold" text-anchor="middle" textLength="82" lengthAdjust="spacingAndGlyphs" fill="#797979" stroke="#797979" stroke-width="2.8" stroke-linejoin="round">AMAZING</text></g>
<defs><linearGradient id="g1" gradientUnits="userSpaceOnUse" x1="300" y1="386" x2="260" y2="521"><stop offset="0" stop-color="#fff" stop-opacity="0.10"/><stop offset="0.5" stop-color="#fff" stop-opacity="0.03"/><stop offset="1" stop-color="#000" stop-opacity="0.05"/></linearGradient></defs>
<clipPath id="c1face"><ellipse cx="340" cy="453.8" rx="135" ry="67.3" /></clipPath>
<rect x="200" y="380" width="280" height="150" fill="url(#g1)" clip-path="url(#c1face)"/>
<path d="M292,534.5 Q332.0,534 372,530" fill="none" stroke="#1b1b1b" stroke-width="3.2" stroke-dasharray="5 2 3 3 6 2 4 3" opacity="0.85"/>
<path d="M292,558.0 Q332.0,557.5 372,553.5" fill="none" stroke="#1b1b1b" stroke-width="3.2" stroke-dasharray="5 2 3 3 6 2 4 3" opacity="0.85"/>
<path d="M290,581.0 Q330.0,580.5 370,576.5" fill="none" stroke="#1b1b1b" stroke-width="3.2" stroke-dasharray="5 2 3 3 6 2 4 3" opacity="0.85"/>
<path d="M290,603.5 Q329.0,603 368,599" fill="none" stroke="#1b1b1b" stroke-width="3.2" stroke-dasharray="5 2 3 3 6 2 4 3" opacity="0.85"/>
<path d="M420,530 L428,552 L436,567 L452,573 L470,577 L500,582 L535,581 L560,576 L580,566 L560,540 Z" fill="#151515"/>
<clipPath id="rcside"><ellipse cx="480" cy="482.5" rx="135.5" ry="84" transform="rotate(34 480 482.5)" /><ellipse cx="480.25" cy="480.92" rx="135.5" ry="84" transform="rotate(34 480.25 480.92)" /><ellipse cx="480.5" cy="479.33" rx="135.5" ry="84" transform="rotate(34 480.5 479.33)" /><ellipse cx="480.75" cy="477.75" rx="135.5" ry="84" transform="rotate(34 480.75 477.75)" /><ellipse cx="481" cy="476.17" rx="135.5" ry="84" transform="rotate(34 481 476.17)" /><ellipse cx="481.25" cy="474.58" rx="135.5" ry="84" transform="rotate(34 481.25 474.58)" /><ellipse cx="481.5" cy="473" rx="135.5" ry="84" transform="rotate(34 481.5 473)" /><ellipse cx="481.75" cy="471.42" rx="135.5" ry="84" transform="rotate(34 481.75 471.42)" /><ellipse cx="482" cy="469.83" rx="135.5" ry="84" transform="rotate(34 482 469.83)" /><ellipse cx="482.25" cy="468.25" rx="135.5" ry="84" transform="rotate(34 482.25 468.25)" /><ellipse cx="482.5" cy="466.67" rx="135.5" ry="84" transform="rotate(34 482.5 466.67)" /><ellipse cx="482.75" cy="465.08" rx="135.5" ry="84" transform="rotate(34 482.75 465.08)" /></clipPath>
<defs><linearGradient id="gs" gradientUnits="userSpaceOnUse" x1="360" y1="420" x2="470" y2="575"><stop offset="0" stop-color="#4e4e4e"/><stop offset="0.4" stop-color="#363636"/><stop offset="0.75" stop-color="#1e1e1e"/><stop offset="1" stop-color="#161616"/></linearGradient></defs>
<rect x="340" y="350" width="280" height="250" fill="url(#gs)" clip-path="url(#rcside)"/>
<ellipse cx="483" cy="463.5" rx="135.5" ry="84" transform="rotate(34 483 463.5)" fill="#3d3d3d"/>
<ellipse cx="483" cy="463.5" rx="132.5" ry="81" transform="rotate(34 483 463.5)" fill="none" stroke="#474747" stroke-width="5"/>
<ellipse cx="482.5" cy="461.5" rx="126" ry="75" transform="rotate(34 482.5 461.5)" fill="none" stroke="#161616" stroke-width="1.7"/>
<path d="M560.52,533.02 L562.91,533.3 L564.77,530.73 L564.56,533.58 L566.86,534.11 L564.33,535.6 L563.9,538.5 L562.55,536.56 L559.98,537.82 L561.67,535.14ZM551.95,537.18 L554.34,537.45 L556.2,534.88 L555.99,537.73 L558.28,538.26 L555.76,539.75 L555.33,542.65 L553.98,540.72 L551.41,541.98 L553.1,539.3ZM542.13,539.96 L544.52,540.24 L546.37,537.67 L546.17,540.52 L548.46,541.05 L545.94,542.54 L545.51,545.43 L544.16,543.5 L541.59,544.76 L543.28,542.08ZM531.22,541.34 L533.62,541.61 L535.47,539.04 L535.26,541.89 L537.56,542.42 L535.04,543.91 L534.6,546.81 L533.25,544.87 L530.69,546.14 L532.38,543.45ZM519.43,541.27 L521.83,541.54 L523.68,538.97 L523.47,541.83 L525.77,542.35 L523.25,543.84 L522.81,546.74 L521.46,544.81 L518.89,546.07 L520.58,543.39ZM506.95,539.77 L509.34,540.04 L511.19,537.47 L510.99,540.32 L513.28,540.85 L510.76,542.34 L510.33,545.24 L508.97,543.3 L506.41,544.57 L508.1,541.88ZM493.98,536.85 L496.38,537.13 L498.23,534.55 L498.02,537.41 L500.32,537.94 L497.8,539.42 L497.36,542.32 L496.01,540.39 L493.44,541.65 L495.13,538.97ZM480.76,532.58 L483.16,532.85 L485.01,530.28 L484.8,533.13 L487.1,533.66 L484.58,535.15 L484.14,538.05 L482.79,536.11 L480.23,537.38 L481.91,534.69ZM467.51,527.01 L469.91,527.29 L471.76,524.71 L471.55,527.57 L473.85,528.1 L471.33,529.58 L470.89,532.48 L469.54,530.55 L466.98,531.81 L468.67,529.13ZM454.46,520.25 L456.85,520.53 L458.71,517.96 L458.5,520.81 L460.8,521.34 L458.27,522.83 L457.84,525.72 L456.49,523.79 L453.92,525.05 L455.61,522.37ZM441.83,512.42 L444.22,512.69 L446.08,510.12 L445.87,512.98 L448.17,513.5 L445.64,514.99 L445.21,517.89 L443.86,515.96 L441.29,517.22 L442.98,514.54ZM429.83,503.64 L432.23,503.92 L434.08,501.35 L433.87,504.2 L436.17,504.73 L433.65,506.21 L433.21,509.11 L431.86,507.18 L429.29,508.44 L430.98,505.76ZM418.68,494.07 L421.07,494.35 L422.93,491.77 L422.72,494.63 L425.01,495.16 L422.49,496.64 L422.06,499.54 L420.71,497.61 L418.14,498.87 L419.83,496.19ZM408.55,483.87 L410.95,484.15 L412.8,481.57 L412.59,484.43 L414.89,484.95 L412.37,486.44 L411.93,489.34 L410.58,487.41 L408.02,488.67 L409.71,485.99ZM399.64,473.21 L402.03,473.49 L403.89,470.92 L403.68,473.77 L405.98,474.3 L403.45,475.79 L403.02,478.69 L401.67,476.75 L399.1,478.01 L400.79,475.33ZM392.08,462.29 L394.47,462.56 L396.33,459.99 L396.12,462.84 L398.42,463.37 L395.89,464.86 L395.46,467.76 L394.11,465.82 L391.54,467.09 L393.23,464.4ZM386.01,451.27 L388.4,451.55 L390.26,448.98 L390.05,451.83 L392.35,452.36 L389.82,453.85 L389.39,456.74 L388.04,454.81 L385.47,456.07 L387.16,453.39ZM381.53,440.36 L383.92,440.64 L385.78,438.07 L385.57,440.92 L387.87,441.45 L385.34,442.94 L384.91,445.83 L383.56,443.9 L380.99,445.16 L382.68,442.48ZM378.72,429.74 L381.11,430.02 L382.97,427.45 L382.76,430.3 L385.05,430.83 L382.53,432.32 L382.1,435.21 L380.75,433.28 L378.18,434.54 L379.87,431.86ZM377.62,419.59 L380.01,419.87 L381.87,417.3 L381.66,420.15 L383.96,420.68 L381.43,422.17 L381,425.06 L379.65,423.13 L377.08,424.39 L378.77,421.71ZM378.26,410.09 L380.65,410.36 L382.51,407.79 L382.3,410.65 L384.6,411.17 L382.07,412.66 L381.64,415.56 L380.29,413.63 L377.72,414.89 L379.41,412.21ZM380.62,401.39 L383.02,401.67 L384.87,399.1 L384.66,401.95 L386.96,402.48 L384.44,403.97 L384,406.86 L382.65,404.93 L380.09,406.19 L381.77,403.51ZM384.67,393.65 L387.06,393.93 L388.92,391.36 L388.71,394.21 L391.01,394.74 L388.48,396.22 L388.05,399.12 L386.7,397.19 L384.13,398.45 L385.82,395.77ZM390.33,387 L392.72,387.28 L394.58,384.7 L394.37,387.56 L396.67,388.09 L394.14,389.57 L393.71,392.47 L392.36,390.54 L389.79,391.8 L391.48,389.12ZM397.51,381.55 L399.9,381.83 L401.76,379.26 L401.55,382.11 L403.85,382.64 L401.32,384.12 L400.89,387.02 L399.54,385.09 L396.97,386.35 L398.66,383.67ZM406.08,377.4 L408.48,377.67 L410.33,375.1 L410.12,377.96 L412.42,378.48 L409.9,379.97 L409.46,382.87 L408.11,380.94 L405.54,382.2 L407.23,379.52ZM415.9,374.61 L418.3,374.89 L420.15,372.32 L419.94,375.17 L422.24,375.7 L419.72,377.18 L419.28,380.08 L417.93,378.15 L415.37,379.41 L417.05,376.73ZM426.8,373.24 L429.2,373.52 L431.05,370.94 L430.84,373.8 L433.14,374.33 L430.62,375.81 L430.18,378.71 L428.83,376.78 L426.27,378.04 L427.96,375.36ZM438.6,373.31 L440.99,373.58 L442.85,371.01 L442.64,373.86 L444.94,374.39 L442.41,375.88 L441.98,378.78 L440.63,376.84 L438.06,378.11 L439.75,375.42ZM451.08,374.81 L453.48,375.09 L455.33,372.51 L455.12,375.37 L457.42,375.9 L454.9,377.38 L454.46,380.28 L453.11,378.35 L450.55,379.61 L452.23,376.93ZM464.05,377.73 L466.44,378 L468.3,375.43 L468.09,378.28 L470.38,378.81 L467.86,380.3 L467.43,383.2 L466.08,381.26 L463.51,382.53 L465.2,379.84ZM477.27,382 L479.66,382.28 L481.51,379.71 L481.31,382.56 L483.6,383.09 L481.08,384.57 L480.65,387.47 L479.3,385.54 L476.73,386.8 L478.42,384.12ZM490.52,387.57 L492.91,387.84 L494.76,385.27 L494.55,388.12 L496.85,388.65 L494.33,390.14 L493.9,393.04 L492.54,391.1 L489.98,392.37 L491.67,389.68ZM503.57,394.32 L505.96,394.6 L507.82,392.03 L507.61,394.88 L509.91,395.41 L507.38,396.9 L506.95,399.79 L505.6,397.86 L503.03,399.12 L504.72,396.44ZM516.2,402.16 L518.59,402.43 L520.45,399.86 L520.24,402.71 L522.54,403.24 L520.01,404.73 L519.58,407.63 L518.23,405.69 L515.66,406.96 L517.35,404.27ZM528.2,410.94 L530.59,411.21 L532.45,408.64 L532.24,411.49 L534.53,412.02 L532.01,413.51 L531.58,416.41 L530.23,414.47 L527.66,415.74 L529.35,413.05ZM539.35,420.51 L541.75,420.78 L543.6,418.21 L543.39,421.06 L545.69,421.59 L543.17,423.08 L542.73,425.98 L541.38,424.04 L538.81,425.31 L540.5,422.62ZM549.47,430.71 L551.87,430.98 L553.72,428.41 L553.51,431.26 L555.81,431.79 L553.29,433.28 L552.85,436.18 L551.5,434.24 L548.94,435.51 L550.63,432.82ZM558.39,441.36 L560.79,441.64 L562.64,439.07 L562.43,441.92 L564.73,442.45 L562.2,443.93 L561.77,446.83 L560.42,444.9 L557.85,446.16 L559.54,443.48ZM565.95,452.29 L568.34,452.56 L570.2,449.99 L569.99,452.85 L572.29,453.37 L569.76,454.86 L569.33,457.76 L567.98,455.83 L565.41,457.09 L567.1,454.41ZM572.02,463.3 L574.41,463.58 L576.27,461.01 L576.06,463.86 L578.36,464.39 L575.83,465.88 L575.4,468.77 L574.05,466.84 L571.48,468.1 L573.17,465.42ZM576.5,474.21 L578.89,474.49 L580.75,471.92 L580.54,474.77 L582.84,475.3 L580.31,476.79 L579.88,479.68 L578.53,477.75 L575.96,479.01 L577.65,476.33Z" fill="#161616"/>
<ellipse cx="481" cy="457" rx="101" ry="58" transform="rotate(34 481 457)" fill="none" stroke="#161616" stroke-width="1.7"/>
<g transform="translate(478 455) rotate(34) scale(1 0.57) scale(1.29) rotate(-113.3)"><clipPath id="rcclip"><circle r="77"/></clipPath><g clip-path="url(#rcclip)"><rect x="-80" y="-223.3" width="160" height="2.6" fill="#161616"/><rect x="-80" y="-215.9" width="160" height="2.6" fill="#161616"/><rect x="-80" y="-208.5" width="160" height="2.6" fill="#161616"/><rect x="-80" y="-201.1" width="160" height="2.6" fill="#161616"/><rect x="-80" y="-193.7" width="160" height="2.6" fill="#161616"/><rect x="-80" y="-186.3" width="160" height="2.6" fill="#161616"/><rect x="-80" y="-178.9" width="160" height="2.6" fill="#161616"/><rect x="-80" y="-171.5" width="160" height="2.6" fill="#161616"/><rect x="-80" y="-164.1" width="160" height="2.6" fill="#161616"/><rect x="-80" y="-156.7" width="160" height="2.6" fill="#161616"/><rect x="-80" y="-149.3" width="160" height="2.6" fill="#161616"/><rect x="-80" y="-141.9" width="160" height="2.6" fill="#161616"/><rect x="-80" y="-134.5" width="160" height="2.6" fill="#161616"/><rect x="-80" y="-127.1" width="160" height="2.6" fill="#161616"/><rect x="-80" y="-119.7" width="160" height="2.6" fill="#161616"/><rect x="-80" y="-112.3" width="160" height="2.6" fill="#161616"/><rect x="-80" y="-104.9" width="160" height="2.6" fill="#161616"/><rect x="-80" y="-97.5" width="160" height="2.6" fill="#161616"/><rect x="-80" y="-90.1" width="160" height="2.6" fill="#161616"/><rect x="-80" y="-82.7" width="160" height="2.6" fill="#161616"/><rect x="-80" y="-75.3" width="160" height="2.6" fill="#161616"/><rect x="-80" y="-67.9" width="160" height="2.6" fill="#161616"/><rect x="-80" y="-60.5" width="160" height="2.6" fill="#161616"/><rect x="-80" y="-53.1" width="160" height="2.6" fill="#161616"/><rect x="-80" y="-45.7" width="160" height="2.6" fill="#161616"/><rect x="-80" y="-38.3" width="160" height="2.6" fill="#161616"/><rect x="-80" y="-30.9" width="160" height="2.6" fill="#161616"/><rect x="-80" y="-23.5" width="160" height="2.6" fill="#161616"/><rect x="-80" y="-16.1" width="160" height="2.6" fill="#161616"/><rect x="-80" y="-8.7" width="160" height="2.6" fill="#161616"/><rect x="-80" y="-1.3" width="160" height="2.6" fill="#161616"/><rect x="-80" y="6.1" width="160" height="2.6" fill="#161616"/><rect x="-80" y="13.5" width="160" height="2.6" fill="#161616"/><rect x="-80" y="20.9" width="160" height="2.6" fill="#161616"/><rect x="-80" y="28.3" width="160" height="2.6" fill="#161616"/><rect x="-80" y="35.7" width="160" height="2.6" fill="#161616"/><rect x="-80" y="43.1" width="160" height="2.6" fill="#161616"/><rect x="-80" y="50.5" width="160" height="2.6" fill="#161616"/><rect x="-80" y="57.9" width="160" height="2.6" fill="#161616"/><rect x="-80" y="65.3" width="160" height="2.6" fill="#161616"/><rect x="-80" y="72.7" width="160" height="2.6" fill="#161616"/><rect x="-80" y="80.1" width="160" height="2.6" fill="#161616"/><rect x="-80" y="87.5" width="160" height="2.6" fill="#161616"/><rect x="-80" y="94.9" width="160" height="2.6" fill="#161616"/><rect x="-80" y="102.3" width="160" height="2.6" fill="#161616"/><rect x="-80" y="109.7" width="160" height="2.6" fill="#161616"/><rect x="-80" y="117.1" width="160" height="2.6" fill="#161616"/><rect x="-80" y="124.5" width="160" height="2.6" fill="#161616"/><rect x="-80" y="131.9" width="160" height="2.6" fill="#161616"/><rect x="-80" y="139.3" width="160" height="2.6" fill="#161616"/><rect x="-80" y="146.7" width="160" height="2.6" fill="#161616"/><rect x="-80" y="154.1" width="160" height="2.6" fill="#161616"/><rect x="-80" y="161.5" width="160" height="2.6" fill="#161616"/><rect x="-80" y="168.9" width="160" height="2.6" fill="#161616"/><rect x="-80" y="176.3" width="160" height="2.6" fill="#161616"/><rect x="-80" y="183.7" width="160" height="2.6" fill="#161616"/><rect x="-80" y="191.1" width="160" height="2.6" fill="#161616"/><rect x="-80" y="198.5" width="160" height="2.6" fill="#161616"/><rect x="-80" y="205.9" width="160" height="2.6" fill="#161616"/><rect x="-80" y="213.3" width="160" height="2.6" fill="#161616"/><rect x="-80" y="220.7" width="160" height="2.6" fill="#161616"/></g></g>
<g transform="translate(0.55 0.75)"><g transform="translate(478 455) rotate(34) scale(1 0.57) scale(1.29) rotate(-113.3)"><text x="1.5" y="-19" font-size="34.29" font-weight="bold" text-anchor="middle" textLength="67" lengthAdjust="spacingAndGlyphs" fill="#121212" stroke="#121212" stroke-width="3.4" stroke-linejoin="round">UNIQUE</text><text x="-48.7" y="5" font-size="61.73" font-weight="bold" text-anchor="middle" textLength="42" lengthAdjust="spacingAndGlyphs" fill="#121212" stroke="#121212" stroke-width="3.4" stroke-linejoin="round">U</text><text x="-19.5" y="22.5" font-size="56.24" font-weight="bold" text-anchor="middle" textLength="34" lengthAdjust="spacingAndGlyphs" fill="#121212" stroke="#121212" stroke-width="3.4" stroke-linejoin="round">S</text><text x="40" y="22" font-size="32.92" font-weight="bold" text-anchor="middle" textLength="70" lengthAdjust="spacingAndGlyphs" fill="#121212" stroke="#121212" stroke-width="3.4" stroke-linejoin="round">SPECIAL</text><text x="-8" y="55" font-size="32.92" font-weight="bold" text-anchor="middle" textLength="98" lengthAdjust="spacingAndGlyphs" fill="#121212" stroke="#121212" stroke-width="3.4" stroke-linejoin="round">AMAZING</text></g></g>
<g transform="translate(1.1 1.5)"><g transform="translate(478 455) rotate(34) scale(1 0.57) scale(1.29) rotate(-113.3)"><text x="1.5" y="-19" font-size="34.29" font-weight="bold" text-anchor="middle" textLength="67" lengthAdjust="spacingAndGlyphs" fill="#121212" stroke="#121212" stroke-width="3.4" stroke-linejoin="round">UNIQUE</text><text x="-48.7" y="5" font-size="61.73" font-weight="bold" text-anchor="middle" textLength="42" lengthAdjust="spacingAndGlyphs" fill="#121212" stroke="#121212" stroke-width="3.4" stroke-linejoin="round">U</text><text x="-19.5" y="22.5" font-size="56.24" font-weight="bold" text-anchor="middle" textLength="34" lengthAdjust="spacingAndGlyphs" fill="#121212" stroke="#121212" stroke-width="3.4" stroke-linejoin="round">S</text><text x="40" y="22" font-size="32.92" font-weight="bold" text-anchor="middle" textLength="70" lengthAdjust="spacingAndGlyphs" fill="#121212" stroke="#121212" stroke-width="3.4" stroke-linejoin="round">SPECIAL</text><text x="-8" y="55" font-size="32.92" font-weight="bold" text-anchor="middle" textLength="98" lengthAdjust="spacingAndGlyphs" fill="#121212" stroke="#121212" stroke-width="3.4" stroke-linejoin="round">AMAZING</text></g></g>
<g transform="translate(1.65 2.25)"><g transform="translate(478 455) rotate(34) scale(1 0.57) scale(1.29) rotate(-113.3)"><text x="1.5" y="-19" font-size="34.29" font-weight="bold" text-anchor="middle" textLength="67" lengthAdjust="spacingAndGlyphs" fill="#121212" stroke="#121212" stroke-width="3.4" stroke-linejoin="round">UNIQUE</text><text x="-48.7" y="5" font-size="61.73" font-weight="bold" text-anchor="middle" textLength="42" lengthAdjust="spacingAndGlyphs" fill="#121212" stroke="#121212" stroke-width="3.4" stroke-linejoin="round">U</text><text x="-19.5" y="22.5" font-size="56.24" font-weight="bold" text-anchor="middle" textLength="34" lengthAdjust="spacingAndGlyphs" fill="#121212" stroke="#121212" stroke-width="3.4" stroke-linejoin="round">S</text><text x="40" y="22" font-size="32.92" font-weight="bold" text-anchor="middle" textLength="70" lengthAdjust="spacingAndGlyphs" fill="#121212" stroke="#121212" stroke-width="3.4" stroke-linejoin="round">SPECIAL</text><text x="-8" y="55" font-size="32.92" font-weight="bold" text-anchor="middle" textLength="98" lengthAdjust="spacingAndGlyphs" fill="#121212" stroke="#121212" stroke-width="3.4" stroke-linejoin="round">AMAZING</text></g></g>
<g transform="translate(2.2 3)"><g transform="translate(478 455) rotate(34) scale(1 0.57) scale(1.29) rotate(-113.3)"><text x="1.5" y="-19" font-size="34.29" font-weight="bold" text-anchor="middle" textLength="67" lengthAdjust="spacingAndGlyphs" fill="#121212" stroke="#121212" stroke-width="3.4" stroke-linejoin="round">UNIQUE</text><text x="-48.7" y="5" font-size="61.73" font-weight="bold" text-anchor="middle" textLength="42" lengthAdjust="spacingAndGlyphs" fill="#121212" stroke="#121212" stroke-width="3.4" stroke-linejoin="round">U</text><text x="-19.5" y="22.5" font-size="56.24" font-weight="bold" text-anchor="middle" textLength="34" lengthAdjust="spacingAndGlyphs" fill="#121212" stroke="#121212" stroke-width="3.4" stroke-linejoin="round">S</text><text x="40" y="22" font-size="32.92" font-weight="bold" text-anchor="middle" textLength="70" lengthAdjust="spacingAndGlyphs" fill="#121212" stroke="#121212" stroke-width="3.4" stroke-linejoin="round">SPECIAL</text><text x="-8" y="55" font-size="32.92" font-weight="bold" text-anchor="middle" textLength="98" lengthAdjust="spacingAndGlyphs" fill="#121212" stroke="#121212" stroke-width="3.4" stroke-linejoin="round">AMAZING</text></g></g>
<g transform="translate(2.75 3.75)"><g transform="translate(478 455) rotate(34) scale(1 0.57) scale(1.29) rotate(-113.3)"><text x="1.5" y="-19" font-size="34.29" font-weight="bold" text-anchor="middle" textLength="67" lengthAdjust="spacingAndGlyphs" fill="#121212" stroke="#121212" stroke-width="3.4" stroke-linejoin="round">UNIQUE</text><text x="-48.7" y="5" font-size="61.73" font-weight="bold" text-anchor="middle" textLength="42" lengthAdjust="spacingAndGlyphs" fill="#121212" stroke="#121212" stroke-width="3.4" stroke-linejoin="round">U</text><text x="-19.5" y="22.5" font-size="56.24" font-weight="bold" text-anchor="middle" textLength="34" lengthAdjust="spacingAndGlyphs" fill="#121212" stroke="#121212" stroke-width="3.4" stroke-linejoin="round">S</text><text x="40" y="22" font-size="32.92" font-weight="bold" text-anchor="middle" textLength="70" lengthAdjust="spacingAndGlyphs" fill="#121212" stroke="#121212" stroke-width="3.4" stroke-linejoin="round">SPECIAL</text><text x="-8" y="55" font-size="32.92" font-weight="bold" text-anchor="middle" textLength="98" lengthAdjust="spacingAndGlyphs" fill="#121212" stroke="#121212" stroke-width="3.4" stroke-linejoin="round">AMAZING</text></g></g>
<g transform="translate(3.3 4.5)"><g transform="translate(478 455) rotate(34) scale(1 0.57) scale(1.29) rotate(-113.3)"><text x="1.5" y="-19" font-size="34.29" font-weight="bold" text-anchor="middle" textLength="67" lengthAdjust="spacingAndGlyphs" fill="#121212" stroke="#121212" stroke-width="3.4" stroke-linejoin="round">UNIQUE</text><text x="-48.7" y="5" font-size="61.73" font-weight="bold" text-anchor="middle" textLength="42" lengthAdjust="spacingAndGlyphs" fill="#121212" stroke="#121212" stroke-width="3.4" stroke-linejoin="round">U</text><text x="-19.5" y="22.5" font-size="56.24" font-weight="bold" text-anchor="middle" textLength="34" lengthAdjust="spacingAndGlyphs" fill="#121212" stroke="#121212" stroke-width="3.4" stroke-linejoin="round">S</text><text x="40" y="22" font-size="32.92" font-weight="bold" text-anchor="middle" textLength="70" lengthAdjust="spacingAndGlyphs" fill="#121212" stroke="#121212" stroke-width="3.4" stroke-linejoin="round">SPECIAL</text><text x="-8" y="55" font-size="32.92" font-weight="bold" text-anchor="middle" textLength="98" lengthAdjust="spacingAndGlyphs" fill="#121212" stroke="#121212" stroke-width="3.4" stroke-linejoin="round">AMAZING</text></g></g>
<g transform="translate(478 455) rotate(34) scale(1 0.57) scale(1.29) rotate(-113.3)"><text x="1.5" y="-19" font-size="34.29" font-weight="bold" text-anchor="middle" textLength="67" lengthAdjust="spacingAndGlyphs" fill="#161616" stroke="#161616" stroke-width="4.0" stroke-linejoin="round">UNIQUE</text><text x="-48.7" y="5" font-size="61.73" font-weight="bold" text-anchor="middle" textLength="42" lengthAdjust="spacingAndGlyphs" fill="#161616" stroke="#161616" stroke-width="4.0" stroke-linejoin="round">U</text><text x="-19.5" y="22.5" font-size="56.24" font-weight="bold" text-anchor="middle" textLength="34" lengthAdjust="spacingAndGlyphs" fill="#161616" stroke="#161616" stroke-width="4.0" stroke-linejoin="round">S</text><text x="40" y="22" font-size="32.92" font-weight="bold" text-anchor="middle" textLength="70" lengthAdjust="spacingAndGlyphs" fill="#161616" stroke="#161616" stroke-width="4.0" stroke-linejoin="round">SPECIAL</text><text x="-8" y="55" font-size="32.92" font-weight="bold" text-anchor="middle" textLength="98" lengthAdjust="spacingAndGlyphs" fill="#161616" stroke="#161616" stroke-width="4.0" stroke-linejoin="round">AMAZING</text></g>
<g transform="translate(478 455) rotate(34) scale(1 0.57) scale(1.29) rotate(-113.3)"><text x="1.5" y="-19" font-size="34.29" font-weight="bold" text-anchor="middle" textLength="67" lengthAdjust="spacingAndGlyphs" fill="#474747" stroke="#474747" stroke-width="2.8" stroke-linejoin="round">UNIQUE</text><text x="-48.7" y="5" font-size="61.73" font-weight="bold" text-anchor="middle" textLength="42" lengthAdjust="spacingAndGlyphs" fill="#474747" stroke="#474747" stroke-width="2.8" stroke-linejoin="round">U</text><text x="-19.5" y="22.5" font-size="56.24" font-weight="bold" text-anchor="middle" textLength="34" lengthAdjust="spacingAndGlyphs" fill="#474747" stroke="#474747" stroke-width="2.8" stroke-linejoin="round">S</text><text x="40" y="22" font-size="32.92" font-weight="bold" text-anchor="middle" textLength="70" lengthAdjust="spacingAndGlyphs" fill="#474747" stroke="#474747" stroke-width="2.8" stroke-linejoin="round">SPECIAL</text><text x="-8" y="55" font-size="32.92" font-weight="bold" text-anchor="middle" textLength="98" lengthAdjust="spacingAndGlyphs" fill="#474747" stroke="#474747" stroke-width="2.8" stroke-linejoin="round">AMAZING</text></g>
<defs><linearGradient id="g2" gradientUnits="userSpaceOnUse" x1="375" y1="385" x2="585" y2="545"><stop offset="0" stop-color="#fff" stop-opacity="0.20"/><stop offset="0.45" stop-color="#fff" stop-opacity="0.04"/><stop offset="1" stop-color="#000" stop-opacity="0.2"/></linearGradient></defs>
<clipPath id="rcface"><ellipse cx="483" cy="463.5" rx="135.5" ry="84" transform="rotate(34 483 463.5)" /></clipPath>
<rect x="340" y="350" width="280" height="240" fill="url(#g2)" clip-path="url(#rcface)"/>
<g transform="translate(582 500) rotate(-70) scale(1 0.85)"><text x="0" y="-1" font-size="10" font-weight="bold" fill="#111" stroke="#111" stroke-width="0.8" text-anchor="middle">GM</text><text x="0" y="10" font-size="13" font-weight="bold" fill="#111" stroke="#111" stroke-width="0.8" text-anchor="middle">TOYS</text></g>
<g fill="#fff" stroke="#666" stroke-width="3.2" stroke-linejoin="round">
  <path d="M32.5,203 H152 A19,19 0 0 1 171,222 V343 Q171,346 168,348.5 L229.6,432.8 Q229,436.5 226.4,435.2 L160,356.5 Q157.5,360 153,360 H32.5 A19,19 0 0 1 13.5,341 V222 A19,19 0 0 1 32.5,203 Z"/>
  <path d="M300,92 H417 A20,20 0 0 1 437,112 V230 A20,20 0 0 1 417,250 H367.6 L365,421 Q362,427 359,421 L350,250 H300 A20,20 0 0 1 280,230 V112 A20,20 0 0 1 300,92 Z"/>
  <path d="M599,203 H716 A20,20 0 0 1 736,223 V340 A20,20 0 0 1 716,360 H597 Q593,360 590.5,357.5 L523.6,434.2 Q520.2,435 520.4,431.8 L581,348.5 Q579,346 579,342 V223 A20,20 0 0 1 599,203 Z"/>
  <path d="M33,685 H153 Q156.5,685 159,687.5 L247.4,581.8 Q251.5,579.5 250.6,584.2 L169.5,697.5 Q171,699.5 171,703 V823 A19,19 0 0 1 152,842 H33 A19,19 0 0 1 14,823 V704 A19,19 0 0 1 33,685 Z"/>
  <path d="M597,685 H716 A20,20 0 0 1 736,705 V822 A20,20 0 0 1 716,842 H599 A20,20 0 0 1 579,822 V703 Q579,698 582.5,694.5 L502.4,583.7 Q502,579 505.6,581.3 L594,686 Q595.5,685 597,685 Z"/>
</g>
<text class="t" x="91.7" y="272.7" textLength="62.7" lengthAdjust="spacingAndGlyphs">Good</text>
<text class="t" x="92.2" y="303.5" textLength="117.1" lengthAdjust="spacingAndGlyphs">Adherence</text>
<text class="t" x="358.1" y="171.0" textLength="125.5" lengthAdjust="spacingAndGlyphs">Dishwasher</text>
<text class="t" x="358.1" y="202.2" textLength="48.1" lengthAdjust="spacingAndGlyphs">Safe</text>
<text class="t" x="658.3" y="261.2" textLength="130.0" lengthAdjust="spacingAndGlyphs">Suitable For</text>
<text class="t" x="659.3" y="291.6" textLength="130.7" lengthAdjust="spacingAndGlyphs">Both Cold &amp;</text>
<text class="t" x="658.7" y="323.0" textLength="114.7" lengthAdjust="spacingAndGlyphs">Hot Drinks</text>
<text class="t" x="92.2" y="724.2" textLength="124.3" lengthAdjust="spacingAndGlyphs">Made From</text>
<text class="t" x="92.0" y="755.0" textLength="127.3" lengthAdjust="spacingAndGlyphs">Food Grade</text>
<text class="t" x="92.0" y="786.2" textLength="86.1" lengthAdjust="spacingAndGlyphs">Silicone</text>
<text class="t" x="92.3" y="817.2" textLength="134.3" lengthAdjust="spacingAndGlyphs">Eco-Friendly</text>
<text class="t" x="655.4" y="743.3" textLength="89.7" lengthAdjust="spacingAndGlyphs">Durable</text>
<text class="t" x="655.5" y="774.2" textLength="17.2" lengthAdjust="spacingAndGlyphs">&amp;</text>
<text class="t" x="655.2" y="804.9" textLength="92.4" lengthAdjust="spacingAndGlyphs">Versatile</text>
</svg>
</body>
</html>
